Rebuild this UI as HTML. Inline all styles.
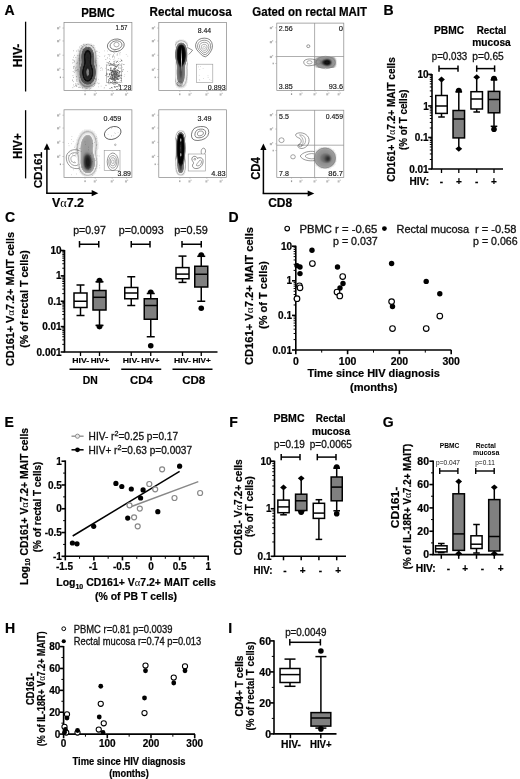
<!DOCTYPE html><html><head><meta charset="utf-8"><title>Figure</title><style>html,body{margin:0;padding:0;background:#fff}svg{display:block;will-change:transform;opacity:0.999}text{font-family:"Liberation Sans",sans-serif}</style></head><body>
<svg width="520" height="779" viewBox="0 0 520 779">
<defs><filter id="b1" x="-30%" y="-30%" width="160%" height="160%"><feGaussianBlur stdDeviation="1.6"/></filter><filter id="b2" x="-30%" y="-30%" width="160%" height="160%"><feGaussianBlur stdDeviation="0.8"/></filter><filter id="b3" x="-30%" y="-30%" width="160%" height="160%"><feGaussianBlur stdDeviation="0.4"/></filter></defs>
<rect width="520" height="779" fill="#fff"/>
<text x="4.4" y="15.4" font-size="14" font-weight="bold" stroke="#000" stroke-width="0.2" >A</text>
<text x="98" y="16.6" font-size="12" font-weight="bold" text-anchor="middle" textLength="33.6" lengthAdjust="spacingAndGlyphs" stroke="#000" stroke-width="0.2" >PBMC</text>
<text x="190.6" y="15.8" font-size="12" font-weight="bold" text-anchor="middle" textLength="82" lengthAdjust="spacingAndGlyphs" stroke="#000" stroke-width="0.2" >Rectal mucosa</text>
<text x="309.7" y="15.8" font-size="12" font-weight="bold" text-anchor="middle" textLength="114.7" lengthAdjust="spacingAndGlyphs" stroke="#000" stroke-width="0.2" >Gated on rectal MAIT</text>
<line x1="25.6" y1="21.7" x2="25.6" y2="91.5" stroke="#000" stroke-width="1.3" />
<line x1="25.6" y1="110.2" x2="25.6" y2="178.4" stroke="#000" stroke-width="1.3" />
<text font-size="12" font-weight="bold" text-anchor="middle" textLength="23.5" lengthAdjust="spacingAndGlyphs" stroke="#000" stroke-width="0.2" transform="translate(22.3,55.4) rotate(-90)" >HIV-</text>
<text font-size="12" font-weight="bold" text-anchor="middle" textLength="25.6" lengthAdjust="spacingAndGlyphs" stroke="#000" stroke-width="0.2" transform="translate(22.2,146.2) rotate(-90)" >HIV+</text>
<defs>
<filter id="dens" x="-30%" y="-30%" width="160%" height="160%" color-interpolation-filters="sRGB"><feGaussianBlur stdDeviation="2.6"/><feComponentTransfer><feFuncA type="table" tableValues="0.00 0.30 0.12 0.09 0.05 0.30 0.50 0.50 0.51 0.51 0.52 0.52 0.53 0.53 0.54 0.54 0.55 0.57 0.69 0.80 0.92 0.92 0.92 0.92 0.92 0.91 0.87 0.82 0.78 0.78 0.79 0.79 0.80 0.80 0.81 0.81 0.82 0.73 0.30 0.22 0.15"/></feComponentTransfer></filter>
<filter id="densS" x="-30%" y="-30%" width="160%" height="160%" color-interpolation-filters="sRGB"><feGaussianBlur stdDeviation="2.0"/><feComponentTransfer><feFuncA type="table" tableValues="0.00 0.30 0.12 0.09 0.05 0.30 0.50 0.50 0.51 0.51 0.52 0.52 0.53 0.53 0.54 0.54 0.55 0.57 0.69 0.80 0.92 0.92 0.92 0.92 0.92 0.91 0.87 0.82 0.78 0.78 0.79 0.79 0.80 0.80 0.81 0.81 0.82 0.73 0.30 0.22 0.15"/></feComponentTransfer></filter>
<filter id="densT" x="-30%" y="-30%" width="160%" height="160%" color-interpolation-filters="sRGB"><feGaussianBlur stdDeviation="1.5"/><feComponentTransfer><feFuncA type="table" tableValues="0.00 0.30 0.12 0.09 0.05 0.30 0.50 0.50 0.51 0.51 0.52 0.52 0.53 0.53 0.54 0.54 0.55 0.57 0.69 0.80 0.92 0.92 0.92 0.92 0.92 0.91 0.87 0.82 0.78 0.78 0.79 0.79 0.80 0.80 0.81 0.81 0.82 0.73 0.30 0.22 0.15"/></feComponentTransfer></filter>
<filter id="densG" x="-30%" y="-30%" width="160%" height="160%" color-interpolation-filters="sRGB"><feGaussianBlur stdDeviation="2.0"/><feComponentTransfer><feFuncA type="table" tableValues="0.00 0.30 0.37 0.40 0.41 0.41 0.42 0.42 0.43 0.43 0.44 0.44 0.45 0.48 0.50 0.53 0.55 0.57 0.60 0.63 0.67 0.70 0.73 0.77 0.80 0.83 0.85 0.88 0.90 0.92 0.95 0.94 0.93 0.92 0.91 0.90 0.89 0.88 0.87 0.86 0.85"/></feComponentTransfer></filter>
<filter id="densD" x="-30%" y="-30%" width="160%" height="160%" color-interpolation-filters="sRGB"><feGaussianBlur stdDeviation="2.0"/><feComponentTransfer><feFuncA type="table" tableValues="0.00 0.30 0.12 0.09 0.05 0.30 0.50 0.52 0.53 0.55 0.57 0.58 0.60 0.68 0.75 0.82 0.90 0.91 0.93 0.94 0.95 0.96 0.98 0.99 1.00 1.00 1.00 1.00 1.00 1.00 1.00 1.00 1.00 1.00 1.00 0.97 0.94 0.91 0.60 0.28 0.20"/></feComponentTransfer></filter>
<filter id="densD2" x="-30%" y="-30%" width="160%" height="160%" color-interpolation-filters="sRGB"><feGaussianBlur stdDeviation="2.4"/><feComponentTransfer><feFuncA type="table" tableValues="0.00 0.30 0.12 0.09 0.05 0.30 0.36 0.37 0.38 0.39 0.40 0.41 0.42 0.44 0.46 0.48 0.51 0.53 0.55 0.58 0.62 0.65 0.68 0.72 0.75 0.77 0.79 0.81 0.82 0.84 0.86 0.88 0.90 0.89 0.88 0.87 0.86 0.85 0.58 0.28 0.20"/></feComponentTransfer></filter>
<filter id="densD3" x="-30%" y="-30%" width="160%" height="160%" color-interpolation-filters="sRGB"><feGaussianBlur stdDeviation="1.8"/><feComponentTransfer><feFuncA type="table" tableValues="0.00 0.30 0.12 0.09 0.05 0.30 0.50 0.52 0.53 0.55 0.57 0.58 0.60 0.68 0.75 0.82 0.90 0.91 0.93 0.94 0.95 0.96 0.98 0.99 1.00 1.00 1.00 1.00 1.00 1.00 1.00 1.00 1.00 1.00 1.00 0.97 0.94 0.91 0.60 0.28 0.20"/></feComponentTransfer></filter>
</defs>
<rect x="64" y="22.6" width="67.9" height="68.0" fill="none" stroke="#858585" stroke-width="0.7" />
<rect x="57.00" y="27.14" width="2.2" height="2.2" fill="#b5b5b5"/><rect x="59.20" y="26.24" width="1.2" height="1.4" fill="#c0c0c0"/>
<line x1="62.4" y1="28.04" x2="64" y2="28.04" stroke="#999" stroke-width="0.5" />
<rect x="57.00" y="40.06" width="2.2" height="2.2" fill="#b5b5b5"/><rect x="59.20" y="39.16" width="1.2" height="1.4" fill="#c0c0c0"/>
<line x1="62.4" y1="40.96" x2="64" y2="40.96" stroke="#999" stroke-width="0.5" />
<rect x="57.00" y="54.34" width="2.2" height="2.2" fill="#b5b5b5"/><rect x="59.20" y="53.44" width="1.2" height="1.4" fill="#c0c0c0"/>
<line x1="62.4" y1="55.24" x2="64" y2="55.24" stroke="#999" stroke-width="0.5" />
<rect x="57.00" y="68.62" width="2.2" height="2.2" fill="#b5b5b5"/><rect x="59.20" y="67.72" width="1.2" height="1.4" fill="#c0c0c0"/>
<line x1="62.4" y1="69.52" x2="64" y2="69.52" stroke="#999" stroke-width="0.5" />
<rect x="59.80" y="76.54" width="1.2" height="1.6" fill="#999"/>
<line x1="62.4" y1="77.34" x2="64" y2="77.34" stroke="#999" stroke-width="0.5" />
<rect x="84.45" y="93.40" width="1.2" height="1.8" fill="#999"/>
<line x1="85.04" y1="90.6" x2="85.04" y2="91.8" stroke="#999" stroke-width="0.5" />
<rect x="93.73" y="93.40" width="2" height="2.2" fill="#bbb"/><rect x="95.73" y="92.70" width="1.2" height="1.3" fill="#c8c8c8"/>
<line x1="95.23" y1="90.6" x2="95.23" y2="91.8" stroke="#999" stroke-width="0.5" />
<rect x="110.71" y="93.40" width="2" height="2.2" fill="#bbb"/><rect x="112.71" y="92.70" width="1.2" height="1.3" fill="#c8c8c8"/>
<line x1="112.20" y1="90.6" x2="112.20" y2="91.8" stroke="#999" stroke-width="0.5" />
<rect x="124.97" y="93.40" width="2" height="2.2" fill="#bbb"/><rect x="126.97" y="92.70" width="1.2" height="1.3" fill="#c8c8c8"/>
<line x1="126.46" y1="90.6" x2="126.46" y2="91.8" stroke="#999" stroke-width="0.5" />
<g filter="url(#b1)"><ellipse cx="86.5" cy="68" rx="10.5" ry="21" fill="#777" fill-opacity="0.6"/></g>
<rect x="85.6" y="73.3" width="0.7" height="0.7" fill="#888"/>
<rect x="89.8" y="47.3" width="0.7" height="0.7" fill="#888"/>
<rect x="81.9" y="46.6" width="0.7" height="0.7" fill="#888"/>
<rect x="85.8" y="66.8" width="0.7" height="0.7" fill="#888"/>
<rect x="92.7" y="47.1" width="0.7" height="0.7" fill="#888"/>
<rect x="88.4" y="48.1" width="0.7" height="0.7" fill="#888"/>
<rect x="77.8" y="49.6" width="0.7" height="0.7" fill="#888"/>
<rect x="91.7" y="54.0" width="0.7" height="0.7" fill="#888"/>
<rect x="77.7" y="70.0" width="0.7" height="0.7" fill="#888"/>
<rect x="77.4" y="61.9" width="0.7" height="0.7" fill="#888"/>
<rect x="88.7" y="82.6" width="0.7" height="0.7" fill="#888"/>
<rect x="86.7" y="57.0" width="0.7" height="0.7" fill="#888"/>
<rect x="88.7" y="57.9" width="0.7" height="0.7" fill="#888"/>
<rect x="89.2" y="80.7" width="0.7" height="0.7" fill="#888"/>
<rect x="90.1" y="72.8" width="0.7" height="0.7" fill="#888"/>
<rect x="93.6" y="60.8" width="0.7" height="0.7" fill="#888"/>
<rect x="85.1" y="46.7" width="0.7" height="0.7" fill="#888"/>
<rect x="86.4" y="53.3" width="0.7" height="0.7" fill="#888"/>
<rect x="84.5" y="58.1" width="0.7" height="0.7" fill="#888"/>
<rect x="81.7" y="70.4" width="0.7" height="0.7" fill="#888"/>
<rect x="82.6" y="79.7" width="0.7" height="0.7" fill="#888"/>
<rect x="88.3" y="75.5" width="0.7" height="0.7" fill="#888"/>
<rect x="87.3" y="67.6" width="0.7" height="0.7" fill="#888"/>
<rect x="94.2" y="83.4" width="0.7" height="0.7" fill="#888"/>
<rect x="86.4" y="88.1" width="0.7" height="0.7" fill="#888"/>
<rect x="82.5" y="49.3" width="0.7" height="0.7" fill="#888"/>
<rect x="78.9" y="50.8" width="0.7" height="0.7" fill="#888"/>
<rect x="91.6" y="66.0" width="0.7" height="0.7" fill="#888"/>
<rect x="94.9" y="78.4" width="0.7" height="0.7" fill="#888"/>
<rect x="89.0" y="69.8" width="0.7" height="0.7" fill="#888"/>
<rect x="90.4" y="75.3" width="0.7" height="0.7" fill="#888"/>
<rect x="83.6" y="70.7" width="0.7" height="0.7" fill="#888"/>
<rect x="81.7" y="81.8" width="0.7" height="0.7" fill="#888"/>
<rect x="84.1" y="86.5" width="0.7" height="0.7" fill="#888"/>
<rect x="79.0" y="46.7" width="0.7" height="0.7" fill="#888"/>
<rect x="88.3" y="75.6" width="0.7" height="0.7" fill="#888"/>
<rect x="76.6" y="81.0" width="0.7" height="0.7" fill="#888"/>
<rect x="73.1" y="56.8" width="0.7" height="0.7" fill="#888"/>
<rect x="80.8" y="45.0" width="0.7" height="0.7" fill="#888"/>
<rect x="92.4" y="64.8" width="0.7" height="0.7" fill="#888"/>
<rect x="88.4" y="46.7" width="0.7" height="0.7" fill="#888"/>
<rect x="89.4" y="78.6" width="0.7" height="0.7" fill="#888"/>
<rect x="89.9" y="61.6" width="0.7" height="0.7" fill="#888"/>
<rect x="90.0" y="83.2" width="0.7" height="0.7" fill="#888"/>
<rect x="92.3" y="68.7" width="0.7" height="0.7" fill="#888"/>
<rect x="89.9" y="83.8" width="0.7" height="0.7" fill="#888"/>
<rect x="91.6" y="56.5" width="0.7" height="0.7" fill="#888"/>
<rect x="77.0" y="62.7" width="0.7" height="0.7" fill="#888"/>
<rect x="79.8" y="87.1" width="0.7" height="0.7" fill="#888"/>
<rect x="95.9" y="50.8" width="0.7" height="0.7" fill="#888"/>
<rect x="88.8" y="54.5" width="0.7" height="0.7" fill="#888"/>
<rect x="90.6" y="65.8" width="0.7" height="0.7" fill="#888"/>
<rect x="83.4" y="44.2" width="0.7" height="0.7" fill="#888"/>
<rect x="84.7" y="62.9" width="0.7" height="0.7" fill="#888"/>
<rect x="82.2" y="86.9" width="0.7" height="0.7" fill="#888"/>
<rect x="92.2" y="75.1" width="0.7" height="0.7" fill="#888"/>
<rect x="79.4" y="74.4" width="0.7" height="0.7" fill="#888"/>
<rect x="86.3" y="46.4" width="0.7" height="0.7" fill="#888"/>
<rect x="94.7" y="83.4" width="0.7" height="0.7" fill="#888"/>
<rect x="81.4" y="79.9" width="0.7" height="0.7" fill="#888"/>
<rect x="82.7" y="48.7" width="0.7" height="0.7" fill="#888"/>
<rect x="90.5" y="72.5" width="0.7" height="0.7" fill="#888"/>
<rect x="88.9" y="53.4" width="0.7" height="0.7" fill="#888"/>
<rect x="87.8" y="51.3" width="0.7" height="0.7" fill="#888"/>
<rect x="86.0" y="44.0" width="0.7" height="0.7" fill="#888"/>
<rect x="88.5" y="50.8" width="0.7" height="0.7" fill="#888"/>
<rect x="91.2" y="45.1" width="0.7" height="0.7" fill="#888"/>
<rect x="90.1" y="83.3" width="0.7" height="0.7" fill="#888"/>
<rect x="84.6" y="55.4" width="0.7" height="0.7" fill="#888"/>
<rect x="85.0" y="59.6" width="0.7" height="0.7" fill="#888"/>
<rect x="85.1" y="82.2" width="0.7" height="0.7" fill="#888"/>
<rect x="89.1" y="88.7" width="0.7" height="0.7" fill="#888"/>
<rect x="80.8" y="47.9" width="0.7" height="0.7" fill="#888"/>
<rect x="88.3" y="48.6" width="0.7" height="0.7" fill="#888"/>
<rect x="84.6" y="81.3" width="0.7" height="0.7" fill="#888"/>
<rect x="90.6" y="51.3" width="0.7" height="0.7" fill="#888"/>
<rect x="100.4" y="67.8" width="0.7" height="0.7" fill="#888"/>
<rect x="89.0" y="50.6" width="0.7" height="0.7" fill="#888"/>
<rect x="85.8" y="67.8" width="0.7" height="0.7" fill="#888"/>
<rect x="86.7" y="88.0" width="0.7" height="0.7" fill="#888"/>
<rect x="92.5" y="55.8" width="0.7" height="0.7" fill="#888"/>
<rect x="80.6" y="60.5" width="0.7" height="0.7" fill="#888"/>
<rect x="91.7" y="68.0" width="0.7" height="0.7" fill="#888"/>
<rect x="95.2" y="79.1" width="0.7" height="0.7" fill="#888"/>
<rect x="85.1" y="80.5" width="0.7" height="0.7" fill="#888"/>
<rect x="90.4" y="88.3" width="0.7" height="0.7" fill="#888"/>
<rect x="93.0" y="80.8" width="0.7" height="0.7" fill="#888"/>
<rect x="79.0" y="77.3" width="0.7" height="0.7" fill="#888"/>
<rect x="88.0" y="60.0" width="0.7" height="0.7" fill="#888"/>
<rect x="93.6" y="45.3" width="0.7" height="0.7" fill="#888"/>
<rect x="91.4" y="55.7" width="0.7" height="0.7" fill="#888"/>
<rect x="87.8" y="75.2" width="0.7" height="0.7" fill="#888"/>
<rect x="92.8" y="86.2" width="0.7" height="0.7" fill="#888"/>
<rect x="85.4" y="88.5" width="0.7" height="0.7" fill="#888"/>
<rect x="92.0" y="53.9" width="0.7" height="0.7" fill="#888"/>
<rect x="85.5" y="54.2" width="0.7" height="0.7" fill="#888"/>
<rect x="88.2" y="72.1" width="0.7" height="0.7" fill="#888"/>
<rect x="90.5" y="84.5" width="0.7" height="0.7" fill="#888"/>
<rect x="90.4" y="73.4" width="0.7" height="0.7" fill="#888"/>
<rect x="81.7" y="80.0" width="0.7" height="0.7" fill="#888"/>
<rect x="94.0" y="84.9" width="0.7" height="0.7" fill="#888"/>
<rect x="91.1" y="79.2" width="0.7" height="0.7" fill="#888"/>
<rect x="87.0" y="52.0" width="0.7" height="0.7" fill="#888"/>
<rect x="80.7" y="79.5" width="0.7" height="0.7" fill="#888"/>
<rect x="82.1" y="87.7" width="0.7" height="0.7" fill="#888"/>
<rect x="95.6" y="61.8" width="0.7" height="0.7" fill="#888"/>
<rect x="76.2" y="76.6" width="0.7" height="0.7" fill="#888"/>
<rect x="94.7" y="51.7" width="0.7" height="0.7" fill="#888"/>
<rect x="89.2" y="84.7" width="0.7" height="0.7" fill="#888"/>
<rect x="89.3" y="80.3" width="0.7" height="0.7" fill="#888"/>
<rect x="73.2" y="81.4" width="0.7" height="0.7" fill="#888"/>
<rect x="79.8" y="75.0" width="0.7" height="0.7" fill="#888"/>
<rect x="74.8" y="70.8" width="0.7" height="0.7" fill="#888"/>
<rect x="73.0" y="50.5" width="0.7" height="0.7" fill="#888"/>
<rect x="79.8" y="74.7" width="0.7" height="0.7" fill="#888"/>
<rect x="76.2" y="85.5" width="0.7" height="0.7" fill="#888"/>
<rect x="75.5" y="83.1" width="0.7" height="0.7" fill="#888"/>
<rect x="78.6" y="58.0" width="0.7" height="0.7" fill="#888"/>
<rect x="74.0" y="61.1" width="0.7" height="0.7" fill="#888"/>
<rect x="73.9" y="72.3" width="0.7" height="0.7" fill="#888"/>
<rect x="74.1" y="65.9" width="0.7" height="0.7" fill="#888"/>
<rect x="73.0" y="84.6" width="0.7" height="0.7" fill="#888"/>
<rect x="74.8" y="67.4" width="0.7" height="0.7" fill="#888"/>
<rect x="76.7" y="84.4" width="0.7" height="0.7" fill="#888"/>
<rect x="75.4" y="84.9" width="0.7" height="0.7" fill="#888"/>
<rect x="76.0" y="70.2" width="0.7" height="0.7" fill="#888"/>
<rect x="76.2" y="50.7" width="0.7" height="0.7" fill="#888"/>
<rect x="75.5" y="57.0" width="0.7" height="0.7" fill="#888"/>
<rect x="72.0" y="80.4" width="0.7" height="0.7" fill="#888"/>
<rect x="73.4" y="68.0" width="0.7" height="0.7" fill="#888"/>
<rect x="77.8" y="71.1" width="0.7" height="0.7" fill="#888"/>
<rect x="74.6" y="69.7" width="0.7" height="0.7" fill="#888"/>
<rect x="76.4" y="79.8" width="0.7" height="0.7" fill="#888"/>
<rect x="72.8" y="71.3" width="0.7" height="0.7" fill="#888"/>
<rect x="74.0" y="60.5" width="0.7" height="0.7" fill="#888"/>
<rect x="78.2" y="69.3" width="0.7" height="0.7" fill="#888"/>
<rect x="76.5" y="78.9" width="0.7" height="0.7" fill="#888"/>
<rect x="79.3" y="66.8" width="0.7" height="0.7" fill="#888"/>
<rect x="76.9" y="69.2" width="0.7" height="0.7" fill="#888"/>
<rect x="76.1" y="76.3" width="0.7" height="0.7" fill="#888"/>
<rect x="75.6" y="70.3" width="0.7" height="0.7" fill="#888"/>
<rect x="75.8" y="85.8" width="0.7" height="0.7" fill="#888"/>
<rect x="77.6" y="83.3" width="0.7" height="0.7" fill="#888"/>
<rect x="79.5" y="59.9" width="0.7" height="0.7" fill="#888"/>
<rect x="76.5" y="85.8" width="0.7" height="0.7" fill="#888"/>
<rect x="78.7" y="55.2" width="0.7" height="0.7" fill="#888"/>
<rect x="73.0" y="66.8" width="0.7" height="0.7" fill="#888"/>
<rect x="72.6" y="59.1" width="0.7" height="0.7" fill="#888"/>
<rect x="72.6" y="75.4" width="0.7" height="0.7" fill="#888"/>
<rect x="78.3" y="84.1" width="0.7" height="0.7" fill="#888"/>
<rect x="73.2" y="77.2" width="0.7" height="0.7" fill="#888"/>
<rect x="77.3" y="55.4" width="0.7" height="0.7" fill="#888"/>
<rect x="79.1" y="86.8" width="0.7" height="0.7" fill="#888"/>
<rect x="73.8" y="86.2" width="0.7" height="0.7" fill="#888"/>
<rect x="75.2" y="68.5" width="0.7" height="0.7" fill="#888"/>
<rect x="79.9" y="81.6" width="0.7" height="0.7" fill="#888"/>
<rect x="73.3" y="66.4" width="0.7" height="0.7" fill="#888"/>
<rect x="76.1" y="62.9" width="0.7" height="0.7" fill="#888"/>
<rect x="73.6" y="62.1" width="0.7" height="0.7" fill="#888"/>
<rect x="77.8" y="50.7" width="0.7" height="0.7" fill="#888"/>
<rect x="76.4" y="66.7" width="0.7" height="0.7" fill="#888"/>
<rect x="72.1" y="62.6" width="0.7" height="0.7" fill="#888"/>
<rect x="77.0" y="69.5" width="0.7" height="0.7" fill="#888"/>
<rect x="72.5" y="87.4" width="0.7" height="0.7" fill="#888"/>
<rect x="78.3" y="86.9" width="0.7" height="0.7" fill="#888"/>
<rect x="72.8" y="60.1" width="0.7" height="0.7" fill="#888"/>
<rect x="72.3" y="79.6" width="0.7" height="0.7" fill="#888"/>
<rect x="74.2" y="54.9" width="0.7" height="0.7" fill="#888"/>
<rect x="75.4" y="84.6" width="0.7" height="0.7" fill="#888"/>
<rect x="78.6" y="59.8" width="0.7" height="0.7" fill="#888"/>
<rect x="100.8" y="85.8" width="0.6" height="0.6" fill="#999"/>
<rect x="114.3" y="77.3" width="0.6" height="0.6" fill="#999"/>
<rect x="98.9" y="52.2" width="0.6" height="0.6" fill="#999"/>
<rect x="118.0" y="66.6" width="0.6" height="0.6" fill="#999"/>
<rect x="98.3" y="86.6" width="0.6" height="0.6" fill="#999"/>
<rect x="116.3" y="81.3" width="0.6" height="0.6" fill="#999"/>
<rect x="98.7" y="83.4" width="0.6" height="0.6" fill="#999"/>
<rect x="98.1" y="83.6" width="0.6" height="0.6" fill="#999"/>
<rect x="110.5" y="63.2" width="0.6" height="0.6" fill="#999"/>
<rect x="113.7" y="86.1" width="0.6" height="0.6" fill="#999"/>
<rect x="104.6" y="55.0" width="0.6" height="0.6" fill="#999"/>
<rect x="112.9" y="59.3" width="0.6" height="0.6" fill="#999"/>
<rect x="99.5" y="56.3" width="0.6" height="0.6" fill="#999"/>
<rect x="97.6" y="57.9" width="0.6" height="0.6" fill="#999"/>
<rect x="106.0" y="61.9" width="0.6" height="0.6" fill="#999"/>
<rect x="120.3" y="61.3" width="0.6" height="0.6" fill="#999"/>
<rect x="112.0" y="56.9" width="0.6" height="0.6" fill="#999"/>
<rect x="107.1" y="50.7" width="0.6" height="0.6" fill="#999"/>
<rect x="104.0" y="50.6" width="0.6" height="0.6" fill="#999"/>
<rect x="119.5" y="71.5" width="0.6" height="0.6" fill="#999"/>
<rect x="102.1" y="68.5" width="0.6" height="0.6" fill="#999"/>
<rect x="125.9" y="54.1" width="0.6" height="0.6" fill="#999"/>
<rect x="122.2" y="66.9" width="0.6" height="0.6" fill="#999"/>
<rect x="111.8" y="82.5" width="0.6" height="0.6" fill="#999"/>
<rect x="108.6" y="69.8" width="0.6" height="0.6" fill="#999"/>
<rect x="118.0" y="88.3" width="0.6" height="0.6" fill="#999"/>
<rect x="107.0" y="82.5" width="0.6" height="0.6" fill="#999"/>
<rect x="118.6" y="74.8" width="0.6" height="0.6" fill="#999"/>
<rect x="109.0" y="63.6" width="0.6" height="0.6" fill="#999"/>
<rect x="97.7" y="55.1" width="0.6" height="0.6" fill="#999"/>
<rect x="98.3" y="78.9" width="0.6" height="0.6" fill="#999"/>
<rect x="104.2" y="56.4" width="0.6" height="0.6" fill="#999"/>
<rect x="98.7" y="82.8" width="0.6" height="0.6" fill="#999"/>
<rect x="123.9" y="76.2" width="0.6" height="0.6" fill="#999"/>
<rect x="105.0" y="59.4" width="0.6" height="0.6" fill="#999"/>
<rect x="105.4" y="67.9" width="0.6" height="0.6" fill="#999"/>
<rect x="101.0" y="67.4" width="0.6" height="0.6" fill="#999"/>
<rect x="104.4" y="87.5" width="0.6" height="0.6" fill="#999"/>
<rect x="127.1" y="71.3" width="0.6" height="0.6" fill="#999"/>
<rect x="103.8" y="87.7" width="0.6" height="0.6" fill="#999"/>
<rect x="105.9" y="63.9" width="0.6" height="0.6" fill="#999"/>
<rect x="96.0" y="64.9" width="0.6" height="0.6" fill="#999"/>
<rect x="111.2" y="69.6" width="0.6" height="0.6" fill="#999"/>
<rect x="102.4" y="69.7" width="0.6" height="0.6" fill="#999"/>
<rect x="96.2" y="60.3" width="0.6" height="0.6" fill="#999"/>
<rect x="98.9" y="65.6" width="0.6" height="0.6" fill="#999"/>
<rect x="97.3" y="50.9" width="0.6" height="0.6" fill="#999"/>
<rect x="105.7" y="59.1" width="0.6" height="0.6" fill="#999"/>
<rect x="114.7" y="70.6" width="0.6" height="0.6" fill="#999"/>
<rect x="120.0" y="75.6" width="0.6" height="0.6" fill="#999"/>
<rect x="118.9" y="84.3" width="0.6" height="0.6" fill="#999"/>
<rect x="108.5" y="62.7" width="0.6" height="0.6" fill="#999"/>
<rect x="127.5" y="55.8" width="0.6" height="0.6" fill="#999"/>
<rect x="119.2" y="75.1" width="0.6" height="0.6" fill="#999"/>
<rect x="97.4" y="82.6" width="0.6" height="0.6" fill="#999"/>
<rect x="124.5" y="74.5" width="0.6" height="0.6" fill="#999"/>
<rect x="119.5" y="81.7" width="0.6" height="0.6" fill="#999"/>
<rect x="100.5" y="70.4" width="0.6" height="0.6" fill="#999"/>
<rect x="112.1" y="82.6" width="0.6" height="0.6" fill="#999"/>
<rect x="121.7" y="82.2" width="0.6" height="0.6" fill="#999"/>
<rect x="115.2" y="64.3" width="0.6" height="0.6" fill="#999"/>
<rect x="116.6" y="61.1" width="0.6" height="0.6" fill="#999"/>
<rect x="110.2" y="50.5" width="0.6" height="0.6" fill="#999"/>
<rect x="108.9" y="55.8" width="0.6" height="0.6" fill="#999"/>
<rect x="108.5" y="63.4" width="0.6" height="0.6" fill="#999"/>
<rect x="114.8" y="60.0" width="0.6" height="0.6" fill="#999"/>
<rect x="115.8" y="60.9" width="0.6" height="0.6" fill="#999"/>
<rect x="113.9" y="50.1" width="0.6" height="0.6" fill="#999"/>
<rect x="118.2" y="62.0" width="0.6" height="0.6" fill="#999"/>
<rect x="114.0" y="58.6" width="0.6" height="0.6" fill="#999"/>
<rect x="116.2" y="51.1" width="0.6" height="0.6" fill="#999"/>
<rect x="117.3" y="54.0" width="0.6" height="0.6" fill="#999"/>
<rect x="108.0" y="54.2" width="0.6" height="0.6" fill="#999"/>
<rect x="117.2" y="53.3" width="0.6" height="0.6" fill="#999"/>
<rect x="117.4" y="65.6" width="0.6" height="0.6" fill="#999"/>
<rect x="113.9" y="56.1" width="0.6" height="0.6" fill="#999"/>
<rect x="113.7" y="60.9" width="0.6" height="0.6" fill="#999"/>
<rect x="117.7" y="59.9" width="0.6" height="0.6" fill="#999"/>
<rect x="116.0" y="51.2" width="0.6" height="0.6" fill="#999"/>
<rect x="109.1" y="54.1" width="0.6" height="0.6" fill="#999"/>
<rect x="117.4" y="54.9" width="0.6" height="0.6" fill="#999"/>
<rect x="114.9" y="50.2" width="0.6" height="0.6" fill="#999"/>
<rect x="107.8" y="54.3" width="0.6" height="0.6" fill="#999"/>
<rect x="116.4" y="61.1" width="0.6" height="0.6" fill="#999"/>
<rect x="116.5" y="54.7" width="0.6" height="0.6" fill="#999"/>
<rect x="114.2" y="57.4" width="0.6" height="0.6" fill="#999"/>
<rect x="113.5" y="51.9" width="0.6" height="0.6" fill="#999"/>
<rect x="119.5" y="53.2" width="0.6" height="0.6" fill="#999"/>
<rect x="120.7" y="65.0" width="0.6" height="0.6" fill="#999"/>
<rect x="107.2" y="57.3" width="0.6" height="0.6" fill="#999"/>
<rect x="118.5" y="65.5" width="0.6" height="0.6" fill="#999"/>
<rect x="113.3" y="54.3" width="0.6" height="0.6" fill="#999"/>
<rect x="109.9" y="65.1" width="0.6" height="0.6" fill="#999"/>
<rect x="109.9" y="59.3" width="0.6" height="0.6" fill="#999"/>
<rect x="109.0" y="58.4" width="0.6" height="0.6" fill="#999"/>
<rect x="120.3" y="52.1" width="0.6" height="0.6" fill="#999"/>
<rect x="118.5" y="58.1" width="0.6" height="0.6" fill="#999"/>
<rect x="119.4" y="61.3" width="0.6" height="0.6" fill="#999"/>
<rect x="110.2" y="64.4" width="0.6" height="0.6" fill="#999"/>
<rect x="113.8" y="50.4" width="0.6" height="0.6" fill="#999"/>
<rect x="107.1" y="57.9" width="0.6" height="0.6" fill="#999"/>
<rect x="113.3" y="54.8" width="0.6" height="0.6" fill="#999"/>
<rect x="109.0" y="55.5" width="0.6" height="0.6" fill="#999"/>
<rect x="111.4" y="63.4" width="0.6" height="0.6" fill="#999"/>
<rect x="107.0" y="62.0" width="0.6" height="0.6" fill="#999"/>
<rect x="118.7" y="51.9" width="0.6" height="0.6" fill="#999"/>
<rect x="120.0" y="61.4" width="0.6" height="0.6" fill="#999"/>
<rect x="119.6" y="54.6" width="0.6" height="0.6" fill="#999"/>
<rect x="112.2" y="56.3" width="0.6" height="0.6" fill="#999"/>
<rect x="121.0" y="59.4" width="0.6" height="0.6" fill="#999"/>
<rect x="112.0" y="56.8" width="0.6" height="0.6" fill="#999"/>
<rect x="110.9" y="50.8" width="0.6" height="0.6" fill="#999"/>
<rect x="108.4" y="63.4" width="0.6" height="0.6" fill="#999"/>
<rect x="111.0" y="65.0" width="0.6" height="0.6" fill="#999"/>
<rect x="110.5" y="54.3" width="0.6" height="0.6" fill="#999"/>
<rect x="114.2" y="53.0" width="0.6" height="0.6" fill="#999"/>
<rect x="112.2" y="65.3" width="0.6" height="0.6" fill="#999"/>
<rect x="119.4" y="63.0" width="0.6" height="0.6" fill="#999"/>
<rect x="115.8" y="64.6" width="0.6" height="0.6" fill="#999"/>
<rect x="120.2" y="58.8" width="0.6" height="0.6" fill="#999"/>
<g filter="url(#dens)">
<ellipse cx="87.7" cy="72.5" rx="5.4" ry="10" fill="#000" fill-opacity="1" transform="rotate(0 87.7 72.5)"/>
<ellipse cx="87.7" cy="57" rx="3.6" ry="8.5" fill="#000" fill-opacity="1" transform="rotate(0 87.7 57)"/>
</g>
<ellipse cx="115.8" cy="45.4" rx="8.5" ry="6.3" fill="none" stroke="#333" stroke-width="0.6" transform="rotate(-12 115.8 45.4)"/>
<ellipse cx="116" cy="45.2" rx="6" ry="4.3" fill="none" stroke="#444" stroke-width="0.6" transform="rotate(-12 116 45.2)"/>
<ellipse cx="116.5" cy="44.6" rx="2.6" ry="2.3" fill="none" stroke="#777" stroke-width="0.6" transform="rotate(0 116.5 44.6)"/>
<rect x="106.5" y="65" width="15" height="17.6" fill="none" stroke="#959595" stroke-width="0.6" />
<rect x="113.8" y="72.8" width="0.8" height="0.8" fill="#555"/>
<rect x="113.6" y="68.5" width="0.8" height="0.8" fill="#555"/>
<rect x="114.1" y="66.6" width="0.8" height="0.8" fill="#555"/>
<rect x="113.8" y="76.2" width="0.8" height="0.8" fill="#555"/>
<rect x="115.6" y="73.2" width="0.8" height="0.8" fill="#555"/>
<rect x="110.9" y="75.4" width="0.8" height="0.8" fill="#555"/>
<rect x="112.4" y="83.1" width="0.8" height="0.8" fill="#555"/>
<rect x="116.6" y="73.9" width="0.8" height="0.8" fill="#555"/>
<rect x="112.4" y="70.6" width="0.8" height="0.8" fill="#555"/>
<rect x="110.8" y="72.6" width="0.8" height="0.8" fill="#555"/>
<rect x="115.0" y="77.3" width="0.8" height="0.8" fill="#555"/>
<rect x="115.9" y="86.0" width="0.8" height="0.8" fill="#555"/>
<rect x="111.6" y="74.6" width="0.8" height="0.8" fill="#555"/>
<rect x="123.5" y="64.2" width="0.8" height="0.8" fill="#555"/>
<rect x="112.2" y="75.4" width="0.8" height="0.8" fill="#555"/>
<rect x="114.5" y="76.7" width="0.8" height="0.8" fill="#555"/>
<rect x="113.2" y="76.5" width="0.8" height="0.8" fill="#555"/>
<rect x="114.2" y="78.7" width="0.8" height="0.8" fill="#555"/>
<rect x="107.6" y="69.6" width="0.8" height="0.8" fill="#555"/>
<rect x="114.0" y="68.8" width="0.8" height="0.8" fill="#555"/>
<rect x="110.4" y="78.0" width="0.8" height="0.8" fill="#555"/>
<rect x="111.8" y="78.0" width="0.8" height="0.8" fill="#555"/>
<rect x="116.5" y="76.2" width="0.8" height="0.8" fill="#555"/>
<rect x="115.7" y="73.9" width="0.8" height="0.8" fill="#555"/>
<rect x="109.2" y="74.3" width="0.8" height="0.8" fill="#555"/>
<rect x="115.5" y="71.6" width="0.8" height="0.8" fill="#555"/>
<rect x="113.7" y="78.6" width="0.8" height="0.8" fill="#555"/>
<rect x="111.0" y="78.0" width="0.8" height="0.8" fill="#555"/>
<rect x="120.3" y="71.4" width="0.8" height="0.8" fill="#555"/>
<rect x="114.5" y="73.7" width="0.8" height="0.8" fill="#555"/>
<rect x="119.2" y="76.2" width="0.8" height="0.8" fill="#555"/>
<rect x="117.1" y="70.7" width="0.8" height="0.8" fill="#555"/>
<rect x="113.9" y="74.4" width="0.8" height="0.8" fill="#555"/>
<rect x="108.0" y="82.4" width="0.8" height="0.8" fill="#555"/>
<rect x="117.1" y="64.9" width="0.8" height="0.8" fill="#555"/>
<rect x="116.5" y="73.8" width="0.8" height="0.8" fill="#555"/>
<rect x="115.5" y="76.5" width="0.8" height="0.8" fill="#555"/>
<rect x="108.9" y="73.3" width="0.8" height="0.8" fill="#555"/>
<rect x="119.1" y="71.3" width="0.8" height="0.8" fill="#555"/>
<rect x="110.5" y="67.0" width="0.8" height="0.8" fill="#555"/>
<rect x="109.8" y="76.3" width="0.8" height="0.8" fill="#555"/>
<rect x="119.8" y="76.9" width="0.8" height="0.8" fill="#555"/>
<rect x="114.8" y="86.8" width="0.8" height="0.8" fill="#555"/>
<rect x="112.2" y="70.8" width="0.8" height="0.8" fill="#555"/>
<rect x="115.8" y="77.5" width="0.8" height="0.8" fill="#555"/>
<rect x="110.5" y="68.1" width="0.8" height="0.8" fill="#555"/>
<rect x="115.0" y="75.9" width="0.8" height="0.8" fill="#555"/>
<rect x="109.6" y="73.4" width="0.8" height="0.8" fill="#555"/>
<rect x="112.2" y="77.0" width="0.8" height="0.8" fill="#555"/>
<rect x="113.6" y="74.0" width="0.8" height="0.8" fill="#555"/>
<rect x="112.8" y="80.3" width="0.8" height="0.8" fill="#555"/>
<rect x="118.7" y="72.5" width="0.8" height="0.8" fill="#555"/>
<rect x="116.9" y="70.3" width="0.8" height="0.8" fill="#555"/>
<rect x="114.2" y="78.6" width="0.8" height="0.8" fill="#555"/>
<rect x="119.1" y="72.4" width="0.8" height="0.8" fill="#555"/>
<rect x="113.7" y="75.6" width="0.8" height="0.8" fill="#555"/>
<rect x="108.9" y="74.6" width="0.8" height="0.8" fill="#555"/>
<rect x="111.7" y="76.5" width="0.8" height="0.8" fill="#555"/>
<rect x="110.2" y="63.6" width="0.8" height="0.8" fill="#555"/>
<rect x="114.1" y="75.9" width="0.8" height="0.8" fill="#555"/>
<rect x="112.1" y="79.4" width="0.8" height="0.8" fill="#555"/>
<rect x="113.1" y="71.2" width="0.8" height="0.8" fill="#555"/>
<rect x="115.6" y="65.9" width="0.8" height="0.8" fill="#555"/>
<rect x="111.7" y="74.4" width="0.8" height="0.8" fill="#555"/>
<rect x="116.9" y="73.6" width="0.8" height="0.8" fill="#555"/>
<rect x="115.0" y="70.9" width="0.8" height="0.8" fill="#555"/>
<rect x="115.0" y="83.6" width="0.8" height="0.8" fill="#555"/>
<rect x="111.7" y="87.5" width="0.8" height="0.8" fill="#555"/>
<rect x="111.8" y="74.6" width="0.8" height="0.8" fill="#555"/>
<rect x="114.6" y="80.1" width="0.8" height="0.8" fill="#555"/>
<rect x="109.8" y="62.9" width="0.8" height="0.8" fill="#555"/>
<rect x="116.1" y="78.9" width="0.8" height="0.8" fill="#555"/>
<rect x="116.1" y="89.0" width="0.8" height="0.8" fill="#555"/>
<rect x="114.7" y="75.9" width="0.8" height="0.8" fill="#555"/>
<rect x="117.2" y="76.5" width="0.8" height="0.8" fill="#555"/>
<rect x="119.7" y="67.7" width="0.8" height="0.8" fill="#555"/>
<rect x="112.7" y="55.6" width="0.8" height="0.8" fill="#555"/>
<rect x="116.8" y="72.5" width="0.8" height="0.8" fill="#555"/>
<rect x="117.1" y="86.3" width="0.8" height="0.8" fill="#555"/>
<rect x="114.0" y="73.1" width="0.8" height="0.8" fill="#555"/>
<rect x="112.3" y="69.9" width="0.8" height="0.8" fill="#555"/>
<rect x="111.9" y="78.0" width="0.8" height="0.8" fill="#555"/>
<rect x="114.1" y="74.9" width="0.8" height="0.8" fill="#555"/>
<rect x="113.4" y="79.5" width="0.8" height="0.8" fill="#555"/>
<rect x="115.7" y="73.7" width="0.8" height="0.8" fill="#555"/>
<rect x="116.3" y="73.7" width="0.8" height="0.8" fill="#555"/>
<rect x="110.1" y="82.5" width="0.8" height="0.8" fill="#555"/>
<rect x="115.6" y="69.2" width="0.8" height="0.8" fill="#555"/>
<rect x="117.7" y="76.4" width="0.8" height="0.8" fill="#555"/>
<rect x="108.7" y="83.4" width="0.8" height="0.8" fill="#555"/>
<rect x="115.1" y="79.4" width="0.8" height="0.8" fill="#555"/>
<rect x="114.7" y="73.7" width="0.8" height="0.8" fill="#555"/>
<rect x="108.7" y="79.8" width="0.8" height="0.8" fill="#555"/>
<rect x="114.1" y="72.9" width="0.8" height="0.8" fill="#555"/>
<rect x="115.2" y="74.9" width="0.8" height="0.8" fill="#555"/>
<rect x="116.3" y="72.5" width="0.8" height="0.8" fill="#555"/>
<rect x="113.9" y="62.7" width="0.8" height="0.8" fill="#555"/>
<rect x="112.6" y="78.2" width="0.8" height="0.8" fill="#555"/>
<rect x="118.5" y="72.5" width="0.8" height="0.8" fill="#555"/>
<rect x="113.6" y="83.2" width="0.8" height="0.8" fill="#555"/>
<rect x="112.9" y="78.5" width="0.8" height="0.8" fill="#555"/>
<rect x="119.7" y="74.7" width="0.8" height="0.8" fill="#555"/>
<rect x="118.2" y="70.6" width="0.8" height="0.8" fill="#555"/>
<rect x="114.7" y="74.1" width="0.8" height="0.8" fill="#555"/>
<rect x="114.4" y="80.7" width="0.8" height="0.8" fill="#555"/>
<rect x="122.1" y="70.8" width="0.8" height="0.8" fill="#555"/>
<rect x="112.0" y="77.2" width="0.8" height="0.8" fill="#555"/>
<rect x="110.4" y="77.2" width="0.8" height="0.8" fill="#555"/>
<rect x="115.9" y="73.0" width="0.8" height="0.8" fill="#555"/>
<rect x="115.8" y="66.0" width="0.8" height="0.8" fill="#555"/>
<rect x="116.6" y="66.0" width="0.8" height="0.8" fill="#555"/>
<rect x="111.6" y="71.4" width="0.8" height="0.8" fill="#555"/>
<rect x="112.6" y="79.2" width="0.8" height="0.8" fill="#555"/>
<rect x="114.3" y="72.3" width="0.8" height="0.8" fill="#555"/>
<rect x="115.8" y="83.2" width="0.8" height="0.8" fill="#555"/>
<rect x="114.0" y="76.5" width="0.8" height="0.8" fill="#555"/>
<rect x="118.2" y="76.0" width="0.8" height="0.8" fill="#555"/>
<rect x="109.6" y="88.2" width="0.8" height="0.8" fill="#555"/>
<rect x="121.5" y="63.6" width="0.8" height="0.8" fill="#555"/>
<rect x="113.9" y="76.8" width="0.8" height="0.8" fill="#555"/>
<rect x="117.3" y="78.2" width="0.8" height="0.8" fill="#555"/>
<rect x="113.1" y="68.7" width="0.8" height="0.8" fill="#555"/>
<rect x="114.4" y="80.2" width="0.8" height="0.8" fill="#555"/>
<rect x="110.3" y="68.9" width="0.8" height="0.8" fill="#555"/>
<rect x="113.9" y="63.8" width="0.8" height="0.8" fill="#555"/>
<rect x="113.1" y="72.1" width="0.8" height="0.8" fill="#555"/>
<rect x="115.5" y="70.6" width="0.8" height="0.8" fill="#555"/>
<rect x="111.0" y="72.3" width="0.8" height="0.8" fill="#555"/>
<rect x="113.8" y="70.8" width="0.8" height="0.8" fill="#555"/>
<rect x="114.0" y="78.6" width="0.8" height="0.8" fill="#555"/>
<rect x="118.0" y="83.9" width="0.8" height="0.8" fill="#555"/>
<rect x="111.3" y="72.2" width="0.8" height="0.8" fill="#555"/>
<rect x="105.6" y="84.9" width="0.8" height="0.8" fill="#555"/>
<rect x="111.5" y="74.3" width="0.8" height="0.8" fill="#555"/>
<rect x="115.8" y="67.0" width="0.8" height="0.8" fill="#555"/>
<rect x="115.6" y="74.4" width="0.8" height="0.8" fill="#555"/>
<rect x="107.8" y="76.1" width="0.8" height="0.8" fill="#555"/>
<rect x="118.1" y="64.2" width="0.8" height="0.8" fill="#555"/>
<rect x="116.7" y="75.7" width="0.8" height="0.8" fill="#555"/>
<rect x="115.6" y="76.9" width="0.8" height="0.8" fill="#555"/>
<rect x="118.4" y="73.3" width="0.8" height="0.8" fill="#555"/>
<rect x="117.0" y="72.2" width="0.8" height="0.8" fill="#555"/>
<rect x="116.5" y="70.0" width="0.8" height="0.8" fill="#555"/>
<rect x="113.6" y="84.0" width="0.8" height="0.8" fill="#555"/>
<rect x="115.5" y="73.6" width="0.8" height="0.8" fill="#555"/>
<rect x="110.1" y="70.2" width="0.8" height="0.8" fill="#555"/>
<rect x="114.7" y="79.7" width="0.8" height="0.8" fill="#555"/>
<rect x="115.4" y="77.4" width="0.8" height="0.8" fill="#555"/>
<rect x="113.9" y="81.9" width="0.8" height="0.8" fill="#555"/>
<rect x="112.7" y="71.5" width="0.8" height="0.8" fill="#555"/>
<rect x="117.0" y="74.8" width="0.8" height="0.8" fill="#555"/>
<rect x="113.1" y="71.3" width="0.8" height="0.8" fill="#555"/>
<rect x="113.1" y="77.9" width="0.8" height="0.8" fill="#555"/>
<rect x="115.2" y="67.8" width="0.8" height="0.8" fill="#555"/>
<rect x="115.4" y="75.5" width="0.8" height="0.8" fill="#555"/>
<rect x="110.6" y="78.8" width="0.8" height="0.8" fill="#555"/>
<rect x="113.0" y="72.7" width="0.8" height="0.8" fill="#555"/>
<rect x="116.7" y="81.8" width="0.8" height="0.8" fill="#555"/>
<rect x="111.7" y="76.9" width="0.8" height="0.8" fill="#555"/>
<rect x="111.0" y="87.2" width="0.8" height="0.8" fill="#555"/>
<rect x="112.3" y="81.1" width="0.8" height="0.8" fill="#555"/>
<rect x="111.8" y="79.0" width="0.8" height="0.8" fill="#555"/>
<rect x="121.5" y="60.5" width="0.8" height="0.8" fill="#555"/>
<rect x="112.5" y="77.3" width="0.8" height="0.8" fill="#555"/>
<rect x="113.7" y="70.8" width="0.8" height="0.8" fill="#555"/>
<rect x="121.3" y="74.9" width="0.8" height="0.8" fill="#555"/>
<rect x="108.4" y="79.2" width="0.8" height="0.8" fill="#555"/>
<rect x="108.1" y="80.8" width="0.8" height="0.8" fill="#555"/>
<rect x="112.0" y="75.3" width="0.8" height="0.8" fill="#555"/>
<rect x="118.3" y="75.1" width="0.8" height="0.8" fill="#555"/>
<rect x="109.3" y="65.2" width="0.8" height="0.8" fill="#555"/>
<rect x="118.0" y="78.6" width="0.8" height="0.8" fill="#555"/>
<rect x="111.2" y="79.2" width="0.8" height="0.8" fill="#555"/>
<rect x="115.7" y="78.1" width="0.8" height="0.8" fill="#555"/>
<rect x="106.3" y="72.8" width="0.8" height="0.8" fill="#555"/>
<rect x="117.1" y="78.5" width="0.8" height="0.8" fill="#555"/>
<rect x="117.0" y="61.0" width="0.8" height="0.8" fill="#555"/>
<rect x="114.6" y="77.2" width="0.8" height="0.8" fill="#555"/>
<rect x="122.7" y="69.3" width="0.8" height="0.8" fill="#555"/>
<rect x="112.9" y="74.7" width="0.8" height="0.8" fill="#555"/>
<rect x="117.0" y="72.1" width="0.8" height="0.8" fill="#555"/>
<rect x="117.9" y="70.2" width="0.8" height="0.8" fill="#555"/>
<rect x="114.9" y="71.6" width="0.8" height="0.8" fill="#555"/>
<rect x="114.5" y="70.7" width="0.8" height="0.8" fill="#555"/>
<rect x="108.6" y="80.5" width="0.8" height="0.8" fill="#555"/>
<rect x="115.0" y="71.4" width="0.8" height="0.8" fill="#555"/>
<rect x="114.7" y="79.9" width="0.8" height="0.8" fill="#555"/>
<rect x="110.7" y="73.9" width="0.8" height="0.8" fill="#555"/>
<rect x="115.8" y="77.4" width="0.8" height="0.8" fill="#555"/>
<rect x="112.9" y="62.9" width="0.8" height="0.8" fill="#555"/>
<rect x="118.2" y="76.3" width="0.8" height="0.8" fill="#555"/>
<rect x="114.0" y="73.0" width="0.8" height="0.8" fill="#555"/>
<rect x="114.9" y="72.2" width="0.8" height="0.8" fill="#555"/>
<rect x="110.5" y="70.4" width="0.8" height="0.8" fill="#555"/>
<rect x="112.0" y="71.1" width="0.8" height="0.8" fill="#555"/>
<rect x="110.1" y="78.0" width="0.8" height="0.8" fill="#555"/>
<rect x="109.5" y="78.1" width="0.8" height="0.8" fill="#555"/>
<rect x="110.6" y="76.4" width="0.8" height="0.8" fill="#555"/>
<rect x="118.7" y="75.6" width="0.8" height="0.8" fill="#555"/>
<rect x="111.5" y="74.8" width="0.8" height="0.8" fill="#555"/>
<rect x="114.5" y="65.0" width="0.8" height="0.8" fill="#555"/>
<rect x="111.9" y="75.4" width="0.8" height="0.8" fill="#555"/>
<rect x="112.4" y="74.9" width="0.8" height="0.8" fill="#555"/>
<rect x="116.5" y="78.7" width="0.8" height="0.8" fill="#555"/>
<rect x="117.1" y="77.7" width="0.8" height="0.8" fill="#555"/>
<rect x="113.0" y="74.4" width="0.8" height="0.8" fill="#555"/>
<rect x="113.1" y="72.8" width="0.8" height="0.8" fill="#555"/>
<rect x="113.4" y="65.0" width="0.8" height="0.8" fill="#555"/>
<rect x="112.9" y="74.4" width="0.8" height="0.8" fill="#555"/>
<rect x="110.7" y="74.4" width="0.8" height="0.8" fill="#555"/>
<rect x="115.8" y="73.6" width="0.8" height="0.8" fill="#555"/>
<rect x="121.1" y="60.2" width="0.8" height="0.8" fill="#555"/>
<rect x="113.3" y="64.5" width="0.8" height="0.8" fill="#555"/>
<rect x="117.3" y="89.1" width="0.8" height="0.8" fill="#555"/>
<rect x="105.5" y="75.2" width="0.8" height="0.8" fill="#555"/>
<rect x="115.8" y="72.8" width="0.8" height="0.8" fill="#555"/>
<rect x="115.9" y="62.2" width="0.8" height="0.8" fill="#555"/>
<rect x="116.9" y="76.5" width="0.8" height="0.8" fill="#555"/>
<rect x="114.1" y="71.3" width="0.8" height="0.8" fill="#555"/>
<rect x="116.2" y="71.8" width="0.8" height="0.8" fill="#555"/>
<rect x="114.8" y="71.7" width="0.8" height="0.8" fill="#555"/>
<rect x="106.4" y="74.3" width="0.8" height="0.8" fill="#555"/>
<rect x="114.7" y="78.6" width="0.8" height="0.8" fill="#555"/>
<rect x="111.0" y="74.3" width="0.8" height="0.8" fill="#555"/>
<rect x="116.1" y="75.3" width="0.8" height="0.8" fill="#555"/>
<rect x="118.2" y="85.5" width="0.8" height="0.8" fill="#555"/>
<rect x="110.9" y="63.9" width="0.8" height="0.8" fill="#555"/>
<rect x="116.9" y="82.9" width="0.8" height="0.8" fill="#555"/>
<rect x="117.1" y="79.0" width="0.8" height="0.8" fill="#555"/>
<rect x="111.9" y="70.6" width="0.8" height="0.8" fill="#555"/>
<rect x="117.0" y="69.5" width="0.8" height="0.8" fill="#555"/>
<rect x="107.8" y="69.0" width="0.8" height="0.8" fill="#555"/>
<rect x="122.5" y="85.1" width="0.8" height="0.8" fill="#555"/>
<rect x="111.7" y="70.5" width="0.8" height="0.8" fill="#555"/>
<rect x="114.8" y="70.4" width="0.8" height="0.8" fill="#555"/>
<rect x="118.5" y="74.1" width="0.8" height="0.8" fill="#555"/>
<rect x="110.3" y="81.7" width="0.8" height="0.8" fill="#555"/>
<rect x="112.0" y="75.7" width="0.8" height="0.8" fill="#555"/>
<rect x="114.0" y="72.8" width="0.8" height="0.8" fill="#555"/>
<rect x="115.1" y="70.7" width="0.8" height="0.8" fill="#555"/>
<rect x="107.7" y="62.4" width="0.8" height="0.8" fill="#555"/>
<rect x="109.7" y="70.3" width="0.8" height="0.8" fill="#555"/>
<rect x="113.9" y="74.8" width="0.8" height="0.8" fill="#555"/>
<rect x="115.9" y="75.2" width="0.8" height="0.8" fill="#555"/>
<rect x="111.3" y="70.6" width="0.8" height="0.8" fill="#555"/>
<rect x="106.8" y="73.6" width="0.8" height="0.8" fill="#555"/>
<rect x="115.6" y="77.4" width="0.8" height="0.8" fill="#555"/>
<rect x="113.6" y="73.5" width="0.8" height="0.8" fill="#555"/>
<rect x="117.2" y="74.6" width="0.8" height="0.8" fill="#555"/>
<rect x="116.5" y="77.7" width="0.8" height="0.8" fill="#555"/>
<rect x="114.7" y="81.7" width="0.8" height="0.8" fill="#555"/>
<rect x="112.1" y="72.5" width="0.8" height="0.8" fill="#555"/>
<rect x="111.3" y="70.1" width="0.8" height="0.8" fill="#555"/>
<rect x="119.3" y="84.2" width="0.8" height="0.8" fill="#555"/>
<rect x="114.1" y="77.6" width="0.8" height="0.8" fill="#555"/>
<rect x="118.0" y="78.9" width="0.8" height="0.8" fill="#555"/>
<rect x="118.1" y="67.6" width="0.8" height="0.8" fill="#555"/>
<rect x="111.8" y="77.0" width="0.8" height="0.8" fill="#555"/>
<rect x="118.9" y="75.1" width="0.8" height="0.8" fill="#555"/>
<rect x="111.1" y="72.6" width="0.8" height="0.8" fill="#555"/>
<rect x="111.8" y="69.8" width="0.8" height="0.8" fill="#555"/>
<rect x="119.1" y="71.1" width="0.8" height="0.8" fill="#555"/>
<rect x="114.1" y="86.4" width="0.8" height="0.8" fill="#555"/>
<rect x="118.0" y="76.3" width="0.8" height="0.8" fill="#555"/>
<rect x="111.9" y="76.8" width="0.8" height="0.8" fill="#555"/>
<rect x="119.5" y="77.9" width="0.8" height="0.8" fill="#555"/>
<rect x="118.3" y="75.0" width="0.8" height="0.8" fill="#555"/>
<rect x="115.8" y="73.4" width="0.8" height="0.8" fill="#555"/>
<rect x="115.5" y="81.7" width="0.8" height="0.8" fill="#555"/>
<rect x="109.1" y="74.2" width="0.8" height="0.8" fill="#555"/>
<rect x="114.8" y="71.4" width="0.8" height="0.8" fill="#555"/>
<rect x="113.0" y="78.8" width="0.8" height="0.8" fill="#555"/>
<rect x="120.8" y="78.0" width="0.8" height="0.8" fill="#555"/>
<rect x="115.1" y="66.0" width="0.8" height="0.8" fill="#555"/>
<rect x="120.6" y="74.9" width="0.8" height="0.8" fill="#555"/>
<rect x="113.9" y="68.3" width="0.8" height="0.8" fill="#555"/>
<rect x="113.8" y="68.5" width="0.8" height="0.8" fill="#555"/>
<rect x="114.2" y="77.1" width="0.8" height="0.8" fill="#555"/>
<rect x="114.1" y="76.0" width="0.8" height="0.8" fill="#555"/>
<rect x="111.1" y="82.4" width="0.8" height="0.8" fill="#555"/>
<rect x="111.8" y="64.5" width="0.8" height="0.8" fill="#555"/>
<rect x="113.4" y="70.3" width="0.8" height="0.8" fill="#555"/>
<rect x="110.6" y="72.5" width="0.8" height="0.8" fill="#555"/>
<rect x="115.0" y="68.0" width="0.8" height="0.8" fill="#555"/>
<rect x="113.5" y="82.3" width="0.8" height="0.8" fill="#555"/>
<rect x="116.3" y="73.7" width="0.8" height="0.8" fill="#555"/>
<rect x="114.4" y="73.8" width="0.8" height="0.8" fill="#555"/>
<rect x="113.8" y="78.5" width="0.8" height="0.8" fill="#555"/>
<rect x="113.7" y="61.3" width="0.8" height="0.8" fill="#555"/>
<rect x="113.9" y="69.6" width="0.8" height="0.8" fill="#555"/>
<rect x="116.2" y="71.1" width="0.8" height="0.8" fill="#555"/>
<rect x="114.5" y="86.5" width="0.8" height="0.8" fill="#555"/>
<rect x="110.4" y="68.3" width="0.8" height="0.8" fill="#555"/>
<rect x="109.2" y="61.3" width="0.8" height="0.8" fill="#555"/>
<rect x="107.6" y="76.5" width="0.8" height="0.8" fill="#555"/>
<rect x="111.8" y="64.2" width="0.8" height="0.8" fill="#555"/>
<rect x="109.0" y="77.9" width="0.8" height="0.8" fill="#555"/>
<rect x="111.4" y="72.5" width="0.8" height="0.8" fill="#555"/>
<rect x="115.1" y="82.0" width="0.8" height="0.8" fill="#555"/>
<rect x="120.6" y="80.2" width="0.8" height="0.8" fill="#555"/>
<text x="127.5" y="30.2" font-size="7.6" text-anchor="end" textLength="12" lengthAdjust="spacingAndGlyphs" fill="#111" stroke="#111" stroke-width="0.15">1.57</text>
<text x="131.2" y="89.8" font-size="7.6" text-anchor="end" textLength="12.4" lengthAdjust="spacingAndGlyphs" fill="#111" stroke="#111" stroke-width="0.15">1.28</text>
<rect x="158.8" y="22.6" width="67.69" height="68.0" fill="none" stroke="#858585" stroke-width="0.7" />
<rect x="151.80" y="27.14" width="2.2" height="2.2" fill="#b5b5b5"/><rect x="154.00" y="26.24" width="1.2" height="1.4" fill="#c0c0c0"/>
<line x1="157.20" y1="28.04" x2="158.8" y2="28.04" stroke="#999" stroke-width="0.5" />
<rect x="151.80" y="40.06" width="2.2" height="2.2" fill="#b5b5b5"/><rect x="154.00" y="39.16" width="1.2" height="1.4" fill="#c0c0c0"/>
<line x1="157.20" y1="40.96" x2="158.8" y2="40.96" stroke="#999" stroke-width="0.5" />
<rect x="151.80" y="54.34" width="2.2" height="2.2" fill="#b5b5b5"/><rect x="154.00" y="53.44" width="1.2" height="1.4" fill="#c0c0c0"/>
<line x1="157.20" y1="55.24" x2="158.8" y2="55.24" stroke="#999" stroke-width="0.5" />
<rect x="151.80" y="68.62" width="2.2" height="2.2" fill="#b5b5b5"/><rect x="154.00" y="67.72" width="1.2" height="1.4" fill="#c0c0c0"/>
<line x1="157.20" y1="69.52" x2="158.8" y2="69.52" stroke="#999" stroke-width="0.5" />
<rect x="154.60" y="76.54" width="1.2" height="1.6" fill="#999"/>
<line x1="157.20" y1="77.34" x2="158.8" y2="77.34" stroke="#999" stroke-width="0.5" />
<rect x="179.19" y="93.40" width="1.2" height="1.8" fill="#999"/>
<line x1="179.78" y1="90.6" x2="179.78" y2="91.8" stroke="#999" stroke-width="0.5" />
<rect x="188.44" y="93.40" width="2" height="2.2" fill="#bbb"/><rect x="190.44" y="92.70" width="1.2" height="1.3" fill="#c8c8c8"/>
<line x1="189.94" y1="90.6" x2="189.94" y2="91.8" stroke="#999" stroke-width="0.5" />
<rect x="205.37" y="93.40" width="2" height="2.2" fill="#bbb"/><rect x="207.37" y="92.70" width="1.2" height="1.3" fill="#c8c8c8"/>
<line x1="206.86" y1="90.6" x2="206.86" y2="91.8" stroke="#999" stroke-width="0.5" />
<rect x="219.58" y="93.40" width="2" height="2.2" fill="#bbb"/><rect x="221.58" y="92.70" width="1.2" height="1.3" fill="#c8c8c8"/>
<line x1="221.08" y1="90.6" x2="221.08" y2="91.8" stroke="#999" stroke-width="0.5" />
<g filter="url(#densD)">
<ellipse cx="181.3" cy="54.5" rx="3.7" ry="10.5" fill="#000" fill-opacity="1" transform="rotate(0 181.3 54.5)"/>
<ellipse cx="180.8" cy="72" rx="3" ry="12.5" fill="#000" fill-opacity="0.42" transform="rotate(0 180.8 72)"/>
</g>
<g filter="url(#b3)"><path d="M181.3,47 L181.9,60 L181.5,72 L181,60 Z" fill="#e8e8e8"/></g>
<ellipse cx="179.7" cy="83.6" rx="2.6" ry="2.2" fill="none" stroke="#555" stroke-width="0.6" transform="rotate(0 179.7 83.6)"/>
<ellipse cx="179.7" cy="83.8" rx="1.2" ry="1" fill="none" stroke="#777" stroke-width="0.6" transform="rotate(0 179.7 83.8)"/>
<path d="M187.5,47.5 L192.6,50.3 L188.8,54.5" fill="none" stroke="#444" stroke-width="0.6"/>
<path d="M195.7,47.1 Q195.1,44.6 196.7,41.9 Q198.3,39.1 201.3,38.5 Q204.3,37.8 207.3,38.5 Q210.3,39.1 211.7,42.4 Q213.1,45.6 212.0,48.9 Q210.8,52.1 208.1,55.1 Q205.3,58.1 202.8,55.9 Q200.3,53.6 198.3,51.6 Q196.3,49.6 195.7,47.1 Z" fill="none" stroke="#333" stroke-width="0.6"/>
<path d="M197.6,47.2 Q197.1,45.3 198.4,43.1 Q199.6,41.0 202.0,40.5 Q204.3,40.0 206.6,40.5 Q209.0,41.0 210.1,43.5 Q211.2,46.0 210.3,48.6 Q209.4,51.1 207.2,53.5 Q205.1,55.8 203.1,54.0 Q201.2,52.3 199.6,50.7 Q198.1,49.2 197.6,47.2 Z" fill="none" stroke="#555" stroke-width="0.6"/>
<path d="M199.5,47.3 Q199.1,45.9 200.0,44.4 Q200.9,42.8 202.6,42.5 Q204.3,42.1 206.0,42.5 Q207.7,42.8 208.4,44.7 Q209.2,46.5 208.6,48.3 Q207.9,50.1 206.4,51.8 Q204.9,53.5 203.5,52.2 Q202.1,51.0 200.9,49.8 Q199.8,48.7 199.5,47.3 Z" fill="none" stroke="#666" stroke-width="0.6"/>
<path d="M201.4,47.4 Q201.2,46.6 201.7,45.6 Q202.3,44.7 203.3,44.5 Q204.3,44.3 205.3,44.5 Q206.3,44.7 206.8,45.8 Q207.3,46.9 206.9,48.0 Q206.5,49.1 205.6,50.2 Q204.6,51.2 203.8,50.4 Q202.9,49.6 202.3,49.0 Q201.6,48.3 201.4,47.4 Z" fill="none" stroke="#777" stroke-width="0.6"/>
<path d="M203.1,47.5 Q203.0,47.2 203.2,46.8 Q203.5,46.4 203.9,46.3 Q204.3,46.2 204.7,46.3 Q205.1,46.4 205.3,46.9 Q205.5,47.3 205.4,47.8 Q205.2,48.2 204.8,48.7 Q204.4,49.1 204.1,48.8 Q203.7,48.4 203.5,48.2 Q203.2,47.9 203.1,47.5 Z" fill="none" stroke="#999" stroke-width="0.6"/>
<rect x="196.6" y="64.2" width="16.2" height="18.1" fill="none" stroke="#959595" stroke-width="0.6" />
<rect x="200.0" y="66.4" width="0.6" height="0.6" fill="#aaa"/>
<rect x="199.5" y="79.9" width="0.6" height="0.6" fill="#aaa"/>
<rect x="202.8" y="68.1" width="0.6" height="0.6" fill="#aaa"/>
<rect x="198.4" y="66.6" width="0.6" height="0.6" fill="#aaa"/>
<rect x="207.7" y="75.5" width="0.6" height="0.6" fill="#aaa"/>
<rect x="207.8" y="77.1" width="0.6" height="0.6" fill="#aaa"/>
<rect x="198.9" y="74.9" width="0.6" height="0.6" fill="#aaa"/>
<rect x="203.1" y="78.3" width="0.6" height="0.6" fill="#aaa"/>
<rect x="209.5" y="79.4" width="0.6" height="0.6" fill="#aaa"/>
<rect x="198.9" y="79.0" width="0.6" height="0.6" fill="#aaa"/>
<rect x="210.8" y="80.2" width="0.6" height="0.6" fill="#aaa"/>
<rect x="199.5" y="69.1" width="0.6" height="0.6" fill="#aaa"/>
<text x="211.2" y="33.2" font-size="7.6" text-anchor="end" textLength="13.5" lengthAdjust="spacingAndGlyphs" fill="#111" stroke="#111" stroke-width="0.15">8.44</text>
<text x="225.6" y="89.6" font-size="7.6" text-anchor="end" textLength="17.8" lengthAdjust="spacingAndGlyphs" fill="#111" stroke="#111" stroke-width="0.15">0.893</text>
<rect x="276.8" y="23.1" width="67.0" height="67.30" fill="none" stroke="#858585" stroke-width="0.7" />
<rect x="269.80" y="26.91" width="2.2" height="2.2" fill="#b5b5b5"/><rect x="272.00" y="26.01" width="1.2" height="1.4" fill="#c0c0c0"/>
<line x1="275.2" y1="27.81" x2="276.8" y2="27.81" stroke="#999" stroke-width="0.5" />
<rect x="269.80" y="41.04" width="2.2" height="2.2" fill="#b5b5b5"/><rect x="272.00" y="40.14" width="1.2" height="1.4" fill="#c0c0c0"/>
<line x1="275.2" y1="41.94" x2="276.8" y2="41.94" stroke="#999" stroke-width="0.5" />
<rect x="269.80" y="55.85" width="2.2" height="2.2" fill="#b5b5b5"/><rect x="272.00" y="54.95" width="1.2" height="1.4" fill="#c0c0c0"/>
<line x1="275.2" y1="56.75" x2="276.8" y2="56.75" stroke="#999" stroke-width="0.5" />
<rect x="272.60" y="62.68" width="1.2" height="1.6" fill="#999"/>
<line x1="275.2" y1="63.48" x2="276.8" y2="63.48" stroke="#999" stroke-width="0.5" />
<rect x="290.94" y="93.20" width="1.2" height="1.8" fill="#999"/>
<line x1="291.54" y1="90.4" x2="291.54" y2="91.60" stroke="#999" stroke-width="0.5" />
<rect x="299.42" y="93.20" width="2" height="2.2" fill="#bbb"/><rect x="301.42" y="92.50" width="1.2" height="1.3" fill="#c8c8c8"/>
<line x1="300.92" y1="90.4" x2="300.92" y2="91.60" stroke="#999" stroke-width="0.5" />
<rect x="313.49" y="93.20" width="2" height="2.2" fill="#bbb"/><rect x="315.49" y="92.50" width="1.2" height="1.3" fill="#c8c8c8"/>
<line x1="314.99" y1="90.4" x2="314.99" y2="91.60" stroke="#999" stroke-width="0.5" />
<rect x="326.22" y="93.20" width="2" height="2.2" fill="#bbb"/><rect x="328.22" y="92.50" width="1.2" height="1.3" fill="#c8c8c8"/>
<line x1="327.72" y1="90.4" x2="327.72" y2="91.60" stroke="#999" stroke-width="0.5" />
<rect x="337.61" y="93.20" width="2" height="2.2" fill="#bbb"/><rect x="339.61" y="92.50" width="1.2" height="1.3" fill="#c8c8c8"/>
<line x1="339.11" y1="90.4" x2="339.11" y2="91.60" stroke="#999" stroke-width="0.5" />
<line x1="314.6" y1="23.1" x2="314.6" y2="90.4" stroke="#8c8c8c" stroke-width="0.7" />
<line x1="276.8" y1="56.5" x2="343.8" y2="56.5" stroke="#8c8c8c" stroke-width="0.7" />
<g filter="url(#densG)">
<ellipse cx="327.3" cy="62.5" rx="5" ry="3.4" fill="#000" fill-opacity="1" transform="rotate(0 327.3 62.5)"/>
<ellipse cx="322" cy="62.3" rx="4.5" ry="2.6" fill="#000" fill-opacity="0.45" transform="rotate(0 322 62.3)"/>
</g>
<ellipse cx="325.5" cy="62.5" rx="9.8" ry="6.2" fill="none" stroke="#777" stroke-width="0.6" transform="rotate(0 325.5 62.5)"/>
<path d="M315.7,60 C312,58.5 306,58.5 304,61 C303,63.5 305,66 309,65.8 C312,65.6 314,65 315.7,64.6" fill="none" stroke="#555" stroke-width="0.6"/>
<ellipse cx="309.5" cy="62.3" rx="2.6" ry="1.6" fill="none" stroke="#777" stroke-width="0.6" transform="rotate(0 309.5 62.3)"/>
<ellipse cx="318.5" cy="62" rx="2.5" ry="2.2" fill="none" stroke="#777" stroke-width="0.6" transform="rotate(0 318.5 62)"/>
<ellipse cx="308.3" cy="46.2" rx="1.6" ry="1.4" fill="none" stroke="#555" stroke-width="0.6" transform="rotate(0 308.3 46.2)"/>
<text x="278.8" y="31" font-size="7.6" textLength="13.8" lengthAdjust="spacingAndGlyphs" fill="#111" stroke="#111" stroke-width="0.15">2.56</text>
<text x="343" y="31" font-size="7.6" text-anchor="end" fill="#111" stroke="#111" stroke-width="0.15">0</text>
<text x="278.8" y="88.8" font-size="7.6" textLength="13.8" lengthAdjust="spacingAndGlyphs" fill="#111" stroke="#111" stroke-width="0.15">3.85</text>
<text x="343" y="88.8" font-size="7.6" text-anchor="end" textLength="14.2" lengthAdjust="spacingAndGlyphs" fill="#111" stroke="#111" stroke-width="0.15">93.6</text>
<rect x="64" y="109.8" width="67.9" height="67.7" fill="none" stroke="#858585" stroke-width="0.7" />
<rect x="57.00" y="114.32" width="2.2" height="2.2" fill="#b5b5b5"/><rect x="59.20" y="113.42" width="1.2" height="1.4" fill="#c0c0c0"/>
<line x1="62.4" y1="115.21" x2="64" y2="115.21" stroke="#999" stroke-width="0.5" />
<rect x="57.00" y="127.18" width="2.2" height="2.2" fill="#b5b5b5"/><rect x="59.20" y="126.28" width="1.2" height="1.4" fill="#c0c0c0"/>
<line x1="62.4" y1="128.07" x2="64" y2="128.07" stroke="#999" stroke-width="0.5" />
<rect x="57.00" y="141.40" width="2.2" height="2.2" fill="#b5b5b5"/><rect x="59.20" y="140.50" width="1.2" height="1.4" fill="#c0c0c0"/>
<line x1="62.4" y1="142.29" x2="64" y2="142.29" stroke="#999" stroke-width="0.5" />
<rect x="57.00" y="155.61" width="2.2" height="2.2" fill="#b5b5b5"/><rect x="59.20" y="154.71" width="1.2" height="1.4" fill="#c0c0c0"/>
<line x1="62.4" y1="156.51" x2="64" y2="156.51" stroke="#999" stroke-width="0.5" />
<rect x="59.80" y="163.50" width="1.2" height="1.6" fill="#999"/>
<line x1="62.4" y1="164.29" x2="64" y2="164.29" stroke="#999" stroke-width="0.5" />
<rect x="84.45" y="180.30" width="1.2" height="1.8" fill="#999"/>
<line x1="85.04" y1="177.5" x2="85.04" y2="178.7" stroke="#999" stroke-width="0.5" />
<rect x="93.73" y="180.30" width="2" height="2.2" fill="#bbb"/><rect x="95.73" y="179.60" width="1.2" height="1.3" fill="#c8c8c8"/>
<line x1="95.23" y1="177.5" x2="95.23" y2="178.7" stroke="#999" stroke-width="0.5" />
<rect x="110.71" y="180.30" width="2" height="2.2" fill="#bbb"/><rect x="112.71" y="179.60" width="1.2" height="1.3" fill="#c8c8c8"/>
<line x1="112.20" y1="177.5" x2="112.20" y2="178.7" stroke="#999" stroke-width="0.5" />
<rect x="124.97" y="180.30" width="2" height="2.2" fill="#bbb"/><rect x="126.97" y="179.60" width="1.2" height="1.3" fill="#c8c8c8"/>
<line x1="126.46" y1="177.5" x2="126.46" y2="178.7" stroke="#999" stroke-width="0.5" />
<rect x="71.6" y="136.4" width="0.6" height="0.6" fill="#999"/>
<rect x="95.1" y="168.3" width="0.6" height="0.6" fill="#999"/>
<rect x="88.3" y="168.8" width="0.6" height="0.6" fill="#999"/>
<rect x="88.2" y="146.8" width="0.6" height="0.6" fill="#999"/>
<rect x="71.2" y="139.0" width="0.6" height="0.6" fill="#999"/>
<rect x="92.2" y="143.4" width="0.6" height="0.6" fill="#999"/>
<rect x="78.2" y="152.4" width="0.6" height="0.6" fill="#999"/>
<rect x="68.7" y="145.5" width="0.6" height="0.6" fill="#999"/>
<rect x="77.0" y="164.3" width="0.6" height="0.6" fill="#999"/>
<rect x="79.8" y="148.2" width="0.6" height="0.6" fill="#999"/>
<rect x="98.8" y="155.7" width="0.6" height="0.6" fill="#999"/>
<rect x="95.2" y="160.3" width="0.6" height="0.6" fill="#999"/>
<rect x="69.0" y="151.9" width="0.6" height="0.6" fill="#999"/>
<rect x="82.0" y="166.7" width="0.6" height="0.6" fill="#999"/>
<rect x="79.1" y="163.9" width="0.6" height="0.6" fill="#999"/>
<rect x="85.2" y="143.9" width="0.6" height="0.6" fill="#999"/>
<rect x="95.6" y="138.7" width="0.6" height="0.6" fill="#999"/>
<rect x="94.2" y="142.0" width="0.6" height="0.6" fill="#999"/>
<rect x="68.0" y="143.3" width="0.6" height="0.6" fill="#999"/>
<rect x="92.4" y="175.1" width="0.6" height="0.6" fill="#999"/>
<rect x="68.1" y="155.1" width="0.6" height="0.6" fill="#999"/>
<rect x="83.7" y="167.7" width="0.6" height="0.6" fill="#999"/>
<rect x="73.9" y="155.3" width="0.6" height="0.6" fill="#999"/>
<rect x="79.1" y="169.1" width="0.6" height="0.6" fill="#999"/>
<rect x="76.3" y="173.7" width="0.6" height="0.6" fill="#999"/>
<rect x="77.1" y="143.8" width="0.6" height="0.6" fill="#999"/>
<rect x="90.4" y="155.4" width="0.6" height="0.6" fill="#999"/>
<rect x="71.5" y="161.1" width="0.6" height="0.6" fill="#999"/>
<rect x="70.6" y="167.3" width="0.6" height="0.6" fill="#999"/>
<rect x="90.3" y="167.3" width="0.6" height="0.6" fill="#999"/>
<rect x="88.1" y="149.6" width="0.6" height="0.6" fill="#999"/>
<rect x="80.8" y="151.2" width="0.6" height="0.6" fill="#999"/>
<rect x="96.5" y="138.5" width="0.6" height="0.6" fill="#999"/>
<rect x="96.4" y="136.0" width="0.6" height="0.6" fill="#999"/>
<rect x="74.6" y="145.8" width="0.6" height="0.6" fill="#999"/>
<rect x="96.8" y="155.5" width="0.6" height="0.6" fill="#999"/>
<rect x="80.1" y="171.2" width="0.6" height="0.6" fill="#999"/>
<rect x="75.5" y="153.9" width="0.6" height="0.6" fill="#999"/>
<rect x="85.0" y="165.9" width="0.6" height="0.6" fill="#999"/>
<rect x="92.1" y="161.5" width="0.6" height="0.6" fill="#999"/>
<rect x="79.2" y="148.4" width="0.6" height="0.6" fill="#999"/>
<rect x="73.0" y="169.6" width="0.6" height="0.6" fill="#999"/>
<rect x="89.2" y="165.4" width="0.6" height="0.6" fill="#999"/>
<rect x="73.4" y="153.0" width="0.6" height="0.6" fill="#999"/>
<rect x="92.7" y="158.7" width="0.6" height="0.6" fill="#999"/>
<rect x="72.0" y="153.9" width="0.6" height="0.6" fill="#999"/>
<rect x="96.3" y="144.8" width="0.6" height="0.6" fill="#999"/>
<rect x="74.1" y="147.4" width="0.6" height="0.6" fill="#999"/>
<rect x="90.5" y="169.6" width="0.6" height="0.6" fill="#999"/>
<rect x="72.9" y="141.4" width="0.6" height="0.6" fill="#999"/>
<rect x="75.9" y="148.4" width="0.6" height="0.6" fill="#999"/>
<rect x="84.7" y="141.6" width="0.6" height="0.6" fill="#999"/>
<rect x="78.5" y="142.8" width="0.6" height="0.6" fill="#999"/>
<rect x="99.2" y="164.9" width="0.6" height="0.6" fill="#999"/>
<rect x="71.3" y="174.5" width="0.6" height="0.6" fill="#999"/>
<rect x="71.3" y="150.8" width="0.6" height="0.6" fill="#999"/>
<rect x="99.5" y="167.6" width="0.6" height="0.6" fill="#999"/>
<rect x="91.5" y="152.8" width="0.6" height="0.6" fill="#999"/>
<rect x="74.3" y="161.2" width="0.6" height="0.6" fill="#999"/>
<rect x="71.4" y="143.5" width="0.6" height="0.6" fill="#999"/>
<g filter="url(#densD2)">
<ellipse cx="87.8" cy="162.5" rx="4.6" ry="9" fill="#000" fill-opacity="0.9" transform="rotate(0 87.8 162.5)"/>
<ellipse cx="86.8" cy="147" rx="6.4" ry="13" fill="#000" fill-opacity="0.24" transform="rotate(6 86.8 147)"/>
</g>
<path d="M79.6,150.7 C71.6,147.2 65.1,153.2 66.4,159.2 C67.1,165.2 72.6,170.2 79.6,168.2" fill="none" stroke="#555" stroke-width="0.6"/>
<path d="M77.7,153.4 C72.2,151.0 67.8,155.1 68.7,159.2 C69.2,163.3 72.9,166.7 77.7,165.3" fill="none" stroke="#666" stroke-width="0.6"/>
<path d="M75.9,156.0 C72.8,154.6 70.4,156.9 70.9,159.2 C71.1,161.5 73.2,163.4 75.9,162.6" fill="none" stroke="#777" stroke-width="0.6"/>
<ellipse cx="112.7" cy="133" rx="8.6" ry="6.1" fill="none" stroke="#333" stroke-width="0.7" transform="rotate(-22 112.7 133)"/>
<rect x="111.0" y="128.3" width="0.6" height="0.6" fill="#aaa"/>
<rect x="111.2" y="135.9" width="0.6" height="0.6" fill="#aaa"/>
<rect x="115.0" y="133.0" width="0.6" height="0.6" fill="#aaa"/>
<rect x="114.2" y="132.6" width="0.6" height="0.6" fill="#aaa"/>
<rect x="107.8" y="134.0" width="0.6" height="0.6" fill="#aaa"/>
<rect x="111.3" y="135.4" width="0.6" height="0.6" fill="#aaa"/>
<rect x="117.8" y="132.3" width="0.6" height="0.6" fill="#aaa"/>
<rect x="113.5" y="135.5" width="0.6" height="0.6" fill="#aaa"/>
<ellipse cx="115.3" cy="144.8" rx="0.8" ry="0.8" fill="none" stroke="#888" stroke-width="0.6" transform="rotate(0 115.3 144.8)"/>
<rect x="104.2" y="150.6" width="15.8" height="19.9" fill="none" stroke="#959595" stroke-width="0.6" />
<ellipse cx="112.8" cy="161.8" rx="5.6" ry="8.8" fill="none" stroke="#555" stroke-width="0.6" transform="rotate(0 112.8 161.8)"/>
<ellipse cx="112.8" cy="161.8" rx="4.03" ry="6.33" fill="none" stroke="#666" stroke-width="0.6" transform="rotate(0 112.8 161.8)"/>
<ellipse cx="112.8" cy="161.8" rx="2.57" ry="4.04" fill="none" stroke="#666" stroke-width="0.6" transform="rotate(0 112.8 161.8)"/>
<ellipse cx="112.8" cy="161.8" rx="1.23" ry="1.93" fill="none" stroke="#888" stroke-width="0.6" transform="rotate(0 112.8 161.8)"/>
<text x="121.2" y="121.2" font-size="7.6" text-anchor="end" textLength="17.7" lengthAdjust="spacingAndGlyphs" fill="#111" stroke="#111" stroke-width="0.15">0.459</text>
<text x="130.8" y="176.2" font-size="7.6" text-anchor="end" textLength="13.4" lengthAdjust="spacingAndGlyphs" fill="#111" stroke="#111" stroke-width="0.15">3.89</text>
<rect x="158.8" y="109.8" width="67.69" height="67.7" fill="none" stroke="#858585" stroke-width="0.7" />
<rect x="151.80" y="114.32" width="2.2" height="2.2" fill="#b5b5b5"/><rect x="154.00" y="113.42" width="1.2" height="1.4" fill="#c0c0c0"/>
<line x1="157.20" y1="115.21" x2="158.8" y2="115.21" stroke="#999" stroke-width="0.5" />
<rect x="151.80" y="127.18" width="2.2" height="2.2" fill="#b5b5b5"/><rect x="154.00" y="126.28" width="1.2" height="1.4" fill="#c0c0c0"/>
<line x1="157.20" y1="128.07" x2="158.8" y2="128.07" stroke="#999" stroke-width="0.5" />
<rect x="151.80" y="141.40" width="2.2" height="2.2" fill="#b5b5b5"/><rect x="154.00" y="140.50" width="1.2" height="1.4" fill="#c0c0c0"/>
<line x1="157.20" y1="142.29" x2="158.8" y2="142.29" stroke="#999" stroke-width="0.5" />
<rect x="151.80" y="155.61" width="2.2" height="2.2" fill="#b5b5b5"/><rect x="154.00" y="154.71" width="1.2" height="1.4" fill="#c0c0c0"/>
<line x1="157.20" y1="156.51" x2="158.8" y2="156.51" stroke="#999" stroke-width="0.5" />
<rect x="154.60" y="163.50" width="1.2" height="1.6" fill="#999"/>
<line x1="157.20" y1="164.29" x2="158.8" y2="164.29" stroke="#999" stroke-width="0.5" />
<rect x="179.19" y="180.30" width="1.2" height="1.8" fill="#999"/>
<line x1="179.78" y1="177.5" x2="179.78" y2="178.7" stroke="#999" stroke-width="0.5" />
<rect x="188.44" y="180.30" width="2" height="2.2" fill="#bbb"/><rect x="190.44" y="179.60" width="1.2" height="1.3" fill="#c8c8c8"/>
<line x1="189.94" y1="177.5" x2="189.94" y2="178.7" stroke="#999" stroke-width="0.5" />
<rect x="205.37" y="180.30" width="2" height="2.2" fill="#bbb"/><rect x="207.37" y="179.60" width="1.2" height="1.3" fill="#c8c8c8"/>
<line x1="206.86" y1="177.5" x2="206.86" y2="178.7" stroke="#999" stroke-width="0.5" />
<rect x="219.58" y="180.30" width="2" height="2.2" fill="#bbb"/><rect x="221.58" y="179.60" width="1.2" height="1.3" fill="#c8c8c8"/>
<line x1="221.08" y1="177.5" x2="221.08" y2="178.7" stroke="#999" stroke-width="0.5" />
<g filter="url(#densD3)">
<ellipse cx="180.7" cy="148.5" rx="3.3" ry="15.5" fill="#000" fill-opacity="0.95" transform="rotate(0 180.7 148.5)"/>
<ellipse cx="180.7" cy="165" rx="2.7" ry="8.5" fill="#000" fill-opacity="0.4" transform="rotate(0 180.7 165)"/>
</g>
<g filter="url(#b3)"><ellipse cx="180.8" cy="140" rx="0.6" ry="1.8" fill="#ccc"/><ellipse cx="180.8" cy="154.8" rx="0.6" ry="1.8" fill="#ccc"/></g>
<path d="M191.6,136.9 Q191.0,134.4 192.3,131.2 Q193.6,127.9 197.1,127.1 Q200.6,126.2 203.8,126.6 Q207.1,126.9 208.3,129.7 Q209.6,132.4 207.8,135.7 Q206.1,138.9 201.8,139.9 Q197.6,141.0 194.8,140.2 Q192.1,139.4 191.6,136.9 Z" fill="none" stroke="#333" stroke-width="0.65"/>
<path d="M195.0,135.6 Q194.6,134.0 195.5,132.0 Q196.3,130.0 198.4,129.5 Q200.6,128.9 202.6,129.2 Q204.6,129.4 205.4,131.1 Q206.2,132.8 205.1,134.8 Q204.0,136.8 201.4,137.5 Q198.7,138.1 197.0,137.6 Q195.3,137.1 195.0,135.6 Z" fill="none" stroke="#444" stroke-width="0.65"/>
<path d="M197.5,134.6 Q197.3,133.7 197.8,132.6 Q198.2,131.5 199.4,131.2 Q200.6,131.0 201.7,131.1 Q202.8,131.2 203.2,132.1 Q203.7,133.1 203.1,134.2 Q202.5,135.3 201.0,135.6 Q199.6,136.0 198.6,135.7 Q197.7,135.4 197.5,134.6 Z" fill="none" stroke="#555" stroke-width="0.65"/>
<rect x="188.2" y="154" width="17.2" height="17" fill="none" stroke="#959595" stroke-width="0.6" />
<path d="M192,158 C193,155.5 197,156 197.5,158.5 C199,157 203,157.5 203,160.5 C203.5,164 201,168 197,168.5 C193.5,169 191.5,166.5 193,164 C195,162.5 191,161 192,158 Z" fill="none" stroke="#444" stroke-width="0.6"/>
<path d="M194,158.8 C195,157.8 196.3,158.6 195.6,159.8 C194.8,160.6 193.6,160 194,158.8 Z" fill="none" stroke="#666" stroke-width="0.6"/>
<path d="M199.5,160.5 C201,159.5 202,161 201.3,163 C200.5,165.5 198,166.5 196.5,165.5 C196,164 198.5,162.5 199.5,160.5 Z" fill="none" stroke="#666" stroke-width="0.6"/>
<path d="M201.5,153.8 C200.5,150.5 202,147.8 204,148.2 C206,148.8 206,152.5 204.5,153.8" fill="none" stroke="#555" stroke-width="0.6"/>
<text x="211.5" y="121.2" font-size="7.6" text-anchor="end" textLength="14" lengthAdjust="spacingAndGlyphs" fill="#111" stroke="#111" stroke-width="0.15">3.49</text>
<text x="225.5" y="176.3" font-size="7.6" text-anchor="end" textLength="14.2" lengthAdjust="spacingAndGlyphs" fill="#111" stroke="#111" stroke-width="0.15">4.83</text>
<rect x="276.8" y="110.2" width="67.0" height="67.3" fill="none" stroke="#858585" stroke-width="0.7" />
<rect x="269.80" y="114.01" width="2.2" height="2.2" fill="#b5b5b5"/><rect x="272.00" y="113.11" width="1.2" height="1.4" fill="#c0c0c0"/>
<line x1="275.2" y1="114.91" x2="276.8" y2="114.91" stroke="#999" stroke-width="0.5" />
<rect x="269.80" y="128.14" width="2.2" height="2.2" fill="#b5b5b5"/><rect x="272.00" y="127.24" width="1.2" height="1.4" fill="#c0c0c0"/>
<line x1="275.2" y1="129.04" x2="276.8" y2="129.04" stroke="#999" stroke-width="0.5" />
<rect x="269.80" y="142.95" width="2.2" height="2.2" fill="#b5b5b5"/><rect x="272.00" y="142.05" width="1.2" height="1.4" fill="#c0c0c0"/>
<line x1="275.2" y1="143.85" x2="276.8" y2="143.85" stroke="#999" stroke-width="0.5" />
<rect x="272.60" y="149.78" width="1.2" height="1.6" fill="#999"/>
<line x1="275.2" y1="150.57" x2="276.8" y2="150.57" stroke="#999" stroke-width="0.5" />
<rect x="290.94" y="180.30" width="1.2" height="1.8" fill="#999"/>
<line x1="291.54" y1="177.5" x2="291.54" y2="178.7" stroke="#999" stroke-width="0.5" />
<rect x="299.42" y="180.30" width="2" height="2.2" fill="#bbb"/><rect x="301.42" y="179.60" width="1.2" height="1.3" fill="#c8c8c8"/>
<line x1="300.92" y1="177.5" x2="300.92" y2="178.7" stroke="#999" stroke-width="0.5" />
<rect x="313.49" y="180.30" width="2" height="2.2" fill="#bbb"/><rect x="315.49" y="179.60" width="1.2" height="1.3" fill="#c8c8c8"/>
<line x1="314.99" y1="177.5" x2="314.99" y2="178.7" stroke="#999" stroke-width="0.5" />
<rect x="326.22" y="180.30" width="2" height="2.2" fill="#bbb"/><rect x="328.22" y="179.60" width="1.2" height="1.3" fill="#c8c8c8"/>
<line x1="327.72" y1="177.5" x2="327.72" y2="178.7" stroke="#999" stroke-width="0.5" />
<rect x="337.61" y="180.30" width="2" height="2.2" fill="#bbb"/><rect x="339.61" y="179.60" width="1.2" height="1.3" fill="#c8c8c8"/>
<line x1="339.11" y1="177.5" x2="339.11" y2="178.7" stroke="#999" stroke-width="0.5" />
<line x1="314.6" y1="110.2" x2="314.6" y2="177.5" stroke="#8c8c8c" stroke-width="0.7" />
<line x1="276.8" y1="145.2" x2="343.8" y2="145.2" stroke="#8c8c8c" stroke-width="0.7" />
<g filter="url(#densG)">
<ellipse cx="325" cy="158" rx="7.2" ry="6.8" fill="#000" fill-opacity="0.42" transform="rotate(0 325 158)"/>
<ellipse cx="328.7" cy="159" rx="2.8" ry="3.6" fill="#000" fill-opacity="0.6" transform="rotate(0 328.7 159)"/>
</g>
<ellipse cx="325" cy="158" rx="10.4" ry="10" fill="none" stroke="#777" stroke-width="0.6" transform="rotate(0 325 158)"/>
<path d="M314.6,151.6 C309,150.5 302.5,152.5 300.2,156 C302,160 309,161.5 314.6,160.5" fill="none" stroke="#555" stroke-width="0.6"/>
<path d="M314.6,153.8 C310.5,153 306.5,154.2 305,156.2 C306.5,158.5 311,159.3 314.6,158.6" fill="none" stroke="#666" stroke-width="0.6"/>
<path d="M296,134 C299,131.8 306,132.5 308.5,137.5 C310.5,142.5 307,148 302,148.5 C298.5,148.5 297,146.5 298.5,144.5 C301.5,143.5 302,140.5 300,138.5 C298,137.5 294.5,136.5 296,134 Z" fill="none" stroke="#555" stroke-width="0.6"/>
<path d="M299.5,135 C303,134.5 305.5,137 305.6,140.5 C305.6,143.5 303.5,145.8 301.5,145.6 C304,143 304,138.5 299.5,135 Z" fill="none" stroke="#777" stroke-width="0.6"/>
<ellipse cx="300.3" cy="145.5" rx="1.6" ry="1.3" fill="none" stroke="#666" stroke-width="0.6" transform="rotate(0 300.3 145.5)"/>
<ellipse cx="281.5" cy="140.2" rx="2.6" ry="2.4" fill="none" stroke="#666" stroke-width="0.6" transform="rotate(0 281.5 140.2)"/>
<ellipse cx="293" cy="156.8" rx="2.3" ry="2.1" fill="none" stroke="#666" stroke-width="0.6" transform="rotate(0 293 156.8)"/>
<text x="279" y="118.6" font-size="7.6" textLength="9.8" lengthAdjust="spacingAndGlyphs" fill="#111" stroke="#111" stroke-width="0.15">5.5</text>
<text x="343" y="118.6" font-size="7.6" text-anchor="end" textLength="17.3" lengthAdjust="spacingAndGlyphs" fill="#111" stroke="#111" stroke-width="0.15">0.459</text>
<text x="279" y="176.2" font-size="7.6" textLength="9.8" lengthAdjust="spacingAndGlyphs" fill="#111" stroke="#111" stroke-width="0.15">7.8</text>
<text x="343" y="176.2" font-size="7.6" text-anchor="end" textLength="14.7" lengthAdjust="spacingAndGlyphs" fill="#111" stroke="#111" stroke-width="0.15">86.7</text>
<line x1="46.9" y1="148" x2="46.9" y2="193.2" stroke="#000" stroke-width="1.5" />
<line x1="46.15" y1="193.2" x2="94" y2="193.2" stroke="#000" stroke-width="1.5" />
<path d="M43.8,149.8 L46.9,143.2 L50.0,149.8 Z" fill="#000"/>
<path d="M91.7,190.1 L98.3,193.2 L91.7,196.29 Z" fill="#000"/>
<line x1="263.4" y1="148.3" x2="263.4" y2="193.5" stroke="#000" stroke-width="1.5" />
<line x1="262.65" y1="193.5" x2="310" y2="193.5" stroke="#000" stroke-width="1.5" />
<path d="M260.29,150.10 L263.4,143.5 L266.5,150.10 Z" fill="#000"/>
<path d="M307.7,190.4 L314.3,193.5 L307.7,196.6 Z" fill="#000"/>
<text font-size="11.6" font-weight="bold" text-anchor="middle" textLength="36.5" lengthAdjust="spacingAndGlyphs" stroke="#000" stroke-width="0.2" transform="translate(42.2,170.1) rotate(-90)" >CD161</text>
<text font-size="12" font-weight="bold" text-anchor="middle" textLength="22.5" lengthAdjust="spacingAndGlyphs" stroke="#000" stroke-width="0.2" transform="translate(259.6,168.5) rotate(-90)" >CD4</text>
<text x="52" y="207" font-size="12.5" font-weight="bold" textLength="32" lengthAdjust="spacingAndGlyphs" stroke="#000" stroke-width="0.2" >V<tspan font-weight="normal" font-family="Liberation Serif" stroke-width="0">α</tspan>7.2</text>
<text x="268.2" y="206.6" font-size="12.5" font-weight="bold" textLength="24" lengthAdjust="spacingAndGlyphs" stroke="#000" stroke-width="0.2" >CD8</text>
<text x="383.6" y="15.2" font-size="14" font-weight="bold" stroke="#000" stroke-width="0.2" >B</text>
<text x="449" y="34" font-size="10.5" font-weight="bold" text-anchor="middle" textLength="30" lengthAdjust="spacingAndGlyphs" stroke="#000" stroke-width="0.2" >PBMC</text>
<text x="491.5" y="34" font-size="10.5" font-weight="bold" text-anchor="middle" textLength="29.5" lengthAdjust="spacingAndGlyphs" stroke="#000" stroke-width="0.2" >Rectal</text>
<text x="491.5" y="46" font-size="10.5" font-weight="bold" text-anchor="middle" textLength="38.5" lengthAdjust="spacingAndGlyphs" stroke="#000" stroke-width="0.2" >mucosa</text>
<text x="449.5" y="60" font-size="10.5" text-anchor="middle" textLength="35.5" lengthAdjust="spacingAndGlyphs" fill="#111" stroke="#111" stroke-width="0.3" >p=0.033</text>
<text x="488" y="60" font-size="10.5" text-anchor="middle" textLength="31.5" lengthAdjust="spacingAndGlyphs" fill="#111" stroke="#111" stroke-width="0.3" >p=0.65</text>
<line x1="439" y1="68.6" x2="458" y2="68.6" stroke="#000" stroke-width="1.5" />
<line x1="439" y1="65.39" x2="439" y2="71.8" stroke="#000" stroke-width="1.5" />
<line x1="458" y1="65.39" x2="458" y2="71.8" stroke="#000" stroke-width="1.5" />
<line x1="476.7" y1="68.6" x2="494.6" y2="68.6" stroke="#000" stroke-width="1.5" />
<line x1="476.7" y1="65.39" x2="476.7" y2="71.8" stroke="#000" stroke-width="1.5" />
<line x1="494.6" y1="65.39" x2="494.6" y2="71.8" stroke="#000" stroke-width="1.5" />
<line x1="432" y1="73.9" x2="432" y2="169" stroke="#000" stroke-width="1.6" />
<line x1="428.2" y1="74.4" x2="432" y2="74.4" stroke="#000" stroke-width="1.6" />
<line x1="429.8" y1="96.44" x2="432" y2="96.44" stroke="#000" stroke-width="1.0" />
<line x1="429.8" y1="90.88" x2="432" y2="90.88" stroke="#000" stroke-width="1.0" />
<line x1="429.8" y1="86.94" x2="432" y2="86.94" stroke="#000" stroke-width="1.0" />
<line x1="429.8" y1="83.89" x2="432" y2="83.89" stroke="#000" stroke-width="1.0" />
<line x1="429.8" y1="81.39" x2="432" y2="81.39" stroke="#000" stroke-width="1.0" />
<line x1="429.8" y1="79.28" x2="432" y2="79.28" stroke="#000" stroke-width="1.0" />
<line x1="429.8" y1="77.45" x2="432" y2="77.45" stroke="#000" stroke-width="1.0" />
<line x1="429.8" y1="75.84" x2="432" y2="75.84" stroke="#000" stroke-width="1.0" />
<line x1="428.2" y1="105.93" x2="432" y2="105.93" stroke="#000" stroke-width="1.6" />
<line x1="429.8" y1="127.97" x2="432" y2="127.97" stroke="#000" stroke-width="1.0" />
<line x1="429.8" y1="122.42" x2="432" y2="122.42" stroke="#000" stroke-width="1.0" />
<line x1="429.8" y1="118.48" x2="432" y2="118.48" stroke="#000" stroke-width="1.0" />
<line x1="429.8" y1="115.42" x2="432" y2="115.42" stroke="#000" stroke-width="1.0" />
<line x1="429.8" y1="112.92" x2="432" y2="112.92" stroke="#000" stroke-width="1.0" />
<line x1="429.8" y1="110.81" x2="432" y2="110.81" stroke="#000" stroke-width="1.0" />
<line x1="429.8" y1="108.98" x2="432" y2="108.98" stroke="#000" stroke-width="1.0" />
<line x1="429.8" y1="107.37" x2="432" y2="107.37" stroke="#000" stroke-width="1.0" />
<line x1="428.2" y1="137.46" x2="432" y2="137.46" stroke="#000" stroke-width="1.6" />
<line x1="429.8" y1="159.50" x2="432" y2="159.50" stroke="#000" stroke-width="1.0" />
<line x1="429.8" y1="153.95" x2="432" y2="153.95" stroke="#000" stroke-width="1.0" />
<line x1="429.8" y1="150.01" x2="432" y2="150.01" stroke="#000" stroke-width="1.0" />
<line x1="429.8" y1="146.95" x2="432" y2="146.95" stroke="#000" stroke-width="1.0" />
<line x1="429.8" y1="144.46" x2="432" y2="144.46" stroke="#000" stroke-width="1.0" />
<line x1="429.8" y1="142.35" x2="432" y2="142.35" stroke="#000" stroke-width="1.0" />
<line x1="429.8" y1="140.52" x2="432" y2="140.52" stroke="#000" stroke-width="1.0" />
<line x1="429.8" y1="138.90" x2="432" y2="138.90" stroke="#000" stroke-width="1.0" />
<line x1="428.2" y1="169.0" x2="432" y2="169.0" stroke="#000" stroke-width="1.6" />
<line x1="431.2" y1="169" x2="503" y2="169" stroke="#000" stroke-width="1.6" />
<text x="428.7" y="78.0" font-size="10" font-weight="bold" text-anchor="end" stroke="#000" stroke-width="0.2" >10</text>
<text x="428.7" y="109.53" font-size="10" font-weight="bold" text-anchor="end" stroke="#000" stroke-width="0.2" >1</text>
<text x="428.7" y="141.06" font-size="10" font-weight="bold" text-anchor="end" stroke="#000" stroke-width="0.2" >0.1</text>
<text x="428.7" y="172.59" font-size="10" font-weight="bold" text-anchor="end" stroke="#000" stroke-width="0.2" >0.01</text>
<line x1="441.5" y1="169" x2="441.5" y2="173" stroke="#000" stroke-width="1.3" />
<line x1="458.8" y1="169" x2="458.8" y2="173" stroke="#000" stroke-width="1.3" />
<line x1="476.7" y1="169" x2="476.7" y2="173" stroke="#000" stroke-width="1.3" />
<line x1="494" y1="169" x2="494" y2="173" stroke="#000" stroke-width="1.3" />
<line x1="441.5" y1="79.5" x2="441.5" y2="95.5" stroke="#000" stroke-width="1.5" />
<line x1="441.5" y1="113.4" x2="441.5" y2="117" stroke="#000" stroke-width="1.5" />
<line x1="438.2" y1="117" x2="444.8" y2="117" stroke="#000" stroke-width="1.5" />
<rect x="435.75" y="95.5" width="11.5" height="17.90" fill="#fff" stroke="#000" stroke-width="1.5" />
<line x1="435.75" y1="106" x2="447.25" y2="106" stroke="#000" stroke-width="1.5" />
<path d="M438.1,79.5 L441.5,76.6 L444.9,79.5 L441.5,82.4 Z" fill="#000"/>
<line x1="458.8" y1="91.8" x2="458.8" y2="110.5" stroke="#000" stroke-width="1.5" />
<line x1="458.8" y1="137.9" x2="458.8" y2="148.8" stroke="#000" stroke-width="1.5" />
<line x1="455.5" y1="91.8" x2="462.1" y2="91.8" stroke="#000" stroke-width="1.5" />
<rect x="453.05" y="110.5" width="11.5" height="27.40" fill="#808080" stroke="#000" stroke-width="1.5" />
<line x1="453.05" y1="119" x2="464.55" y2="119" stroke="#000" stroke-width="1.5" />
<path d="M455.7,92.39 L455.7,91.39 A3.1,3.6 0 0 1 461.90,91.39 L461.90,92.39 Z" fill="#000"/>
<path d="M455.40,148.8 L458.8,145.9 L462.2,148.8 L458.8,151.70 Z" fill="#000"/>
<line x1="476.7" y1="77.2" x2="476.7" y2="91.7" stroke="#000" stroke-width="1.5" />
<line x1="476.7" y1="109" x2="476.7" y2="112" stroke="#000" stroke-width="1.5" />
<line x1="473.4" y1="112" x2="480.0" y2="112" stroke="#000" stroke-width="1.5" />
<rect x="470.95" y="91.7" width="11.5" height="17.29" fill="#fff" stroke="#000" stroke-width="1.5" />
<line x1="470.95" y1="99" x2="482.45" y2="99" stroke="#000" stroke-width="1.5" />
<path d="M473.3,77.2 L476.7,74.3 L480.09,77.2 L476.7,80.10 Z" fill="#000"/>
<line x1="494" y1="79.8" x2="494" y2="91.4" stroke="#000" stroke-width="1.5" />
<line x1="494" y1="112.8" x2="494" y2="126.3" stroke="#000" stroke-width="1.5" />
<line x1="490.7" y1="79.8" x2="497.3" y2="79.8" stroke="#000" stroke-width="1.5" />
<line x1="490.7" y1="126.3" x2="497.3" y2="126.3" stroke="#000" stroke-width="1.5" />
<rect x="488.25" y="91.4" width="11.5" height="21.39" fill="#808080" stroke="#000" stroke-width="1.5" />
<line x1="488.25" y1="99.5" x2="499.75" y2="99.5" stroke="#000" stroke-width="1.5" />
<path d="M490.9,80.39 L490.9,79.39 A3.1,3.6 0 0 1 497.1,79.39 L497.1,80.39 Z" fill="#000"/>
<circle cx="494" cy="129.2" r="2.8" fill="#000" stroke="none" stroke-width="1.2"/>
<text x="429" y="184.6" font-size="10" font-weight="bold" text-anchor="end" textLength="19.5" lengthAdjust="spacingAndGlyphs" stroke="#000" stroke-width="0.2" >HIV:</text>
<text x="441.5" y="184.6" font-size="10" font-weight="bold" text-anchor="middle" stroke="#000" stroke-width="0.2" >-</text>
<text x="458.8" y="184.6" font-size="10" font-weight="bold" text-anchor="middle" stroke="#000" stroke-width="0.2" >+</text>
<text x="476.7" y="184.6" font-size="10" font-weight="bold" text-anchor="middle" stroke="#000" stroke-width="0.2" >-</text>
<text x="494" y="184.6" font-size="10" font-weight="bold" text-anchor="middle" stroke="#000" stroke-width="0.2" >+</text>
<text font-size="10.5" font-weight="bold" text-anchor="middle" textLength="124.5" lengthAdjust="spacingAndGlyphs" stroke="#000" stroke-width="0.2" transform="translate(395,119.5) rotate(-90)" >CD161+ V<tspan font-weight="normal" font-family="Liberation Serif" stroke-width="0">α</tspan>7.2+ MAIT cells</text>
<text font-size="10.5" font-weight="bold" text-anchor="middle" textLength="60.5" lengthAdjust="spacingAndGlyphs" stroke="#000" stroke-width="0.2" transform="translate(406.6,119.7) rotate(-90)" >(% of T cells)</text>
<text x="5" y="221.5" font-size="14" font-weight="bold" stroke="#000" stroke-width="0.2" >C</text>
<line x1="64.5" y1="250.0" x2="64.5" y2="352" stroke="#000" stroke-width="1.6" />
<line x1="60.7" y1="250.5" x2="64.5" y2="250.5" stroke="#000" stroke-width="1.6" />
<line x1="62.3" y1="268.23" x2="64.5" y2="268.23" stroke="#000" stroke-width="1.0" />
<line x1="62.3" y1="263.76" x2="64.5" y2="263.76" stroke="#000" stroke-width="1.0" />
<line x1="62.3" y1="260.59" x2="64.5" y2="260.59" stroke="#000" stroke-width="1.0" />
<line x1="62.3" y1="258.13" x2="64.5" y2="258.13" stroke="#000" stroke-width="1.0" />
<line x1="62.3" y1="256.12" x2="64.5" y2="256.12" stroke="#000" stroke-width="1.0" />
<line x1="62.3" y1="254.43" x2="64.5" y2="254.43" stroke="#000" stroke-width="1.0" />
<line x1="62.3" y1="252.95" x2="64.5" y2="252.95" stroke="#000" stroke-width="1.0" />
<line x1="62.3" y1="251.66" x2="64.5" y2="251.66" stroke="#000" stroke-width="1.0" />
<line x1="60.7" y1="275.87" x2="64.5" y2="275.87" stroke="#000" stroke-width="1.6" />
<line x1="62.3" y1="293.61" x2="64.5" y2="293.61" stroke="#000" stroke-width="1.0" />
<line x1="62.3" y1="289.14" x2="64.5" y2="289.14" stroke="#000" stroke-width="1.0" />
<line x1="62.3" y1="285.97" x2="64.5" y2="285.97" stroke="#000" stroke-width="1.0" />
<line x1="62.3" y1="283.51" x2="64.5" y2="283.51" stroke="#000" stroke-width="1.0" />
<line x1="62.3" y1="281.50" x2="64.5" y2="281.50" stroke="#000" stroke-width="1.0" />
<line x1="62.3" y1="279.80" x2="64.5" y2="279.80" stroke="#000" stroke-width="1.0" />
<line x1="62.3" y1="278.33" x2="64.5" y2="278.33" stroke="#000" stroke-width="1.0" />
<line x1="62.3" y1="277.03" x2="64.5" y2="277.03" stroke="#000" stroke-width="1.0" />
<line x1="60.7" y1="301.25" x2="64.5" y2="301.25" stroke="#000" stroke-width="1.6" />
<line x1="62.3" y1="318.98" x2="64.5" y2="318.98" stroke="#000" stroke-width="1.0" />
<line x1="62.3" y1="314.51" x2="64.5" y2="314.51" stroke="#000" stroke-width="1.0" />
<line x1="62.3" y1="311.34" x2="64.5" y2="311.34" stroke="#000" stroke-width="1.0" />
<line x1="62.3" y1="308.88" x2="64.5" y2="308.88" stroke="#000" stroke-width="1.0" />
<line x1="62.3" y1="306.87" x2="64.5" y2="306.87" stroke="#000" stroke-width="1.0" />
<line x1="62.3" y1="305.18" x2="64.5" y2="305.18" stroke="#000" stroke-width="1.0" />
<line x1="62.3" y1="303.70" x2="64.5" y2="303.70" stroke="#000" stroke-width="1.0" />
<line x1="62.3" y1="302.41" x2="64.5" y2="302.41" stroke="#000" stroke-width="1.0" />
<line x1="60.7" y1="326.62" x2="64.5" y2="326.62" stroke="#000" stroke-width="1.6" />
<line x1="62.3" y1="344.36" x2="64.5" y2="344.36" stroke="#000" stroke-width="1.0" />
<line x1="62.3" y1="339.89" x2="64.5" y2="339.89" stroke="#000" stroke-width="1.0" />
<line x1="62.3" y1="336.72" x2="64.5" y2="336.72" stroke="#000" stroke-width="1.0" />
<line x1="62.3" y1="334.26" x2="64.5" y2="334.26" stroke="#000" stroke-width="1.0" />
<line x1="62.3" y1="332.25" x2="64.5" y2="332.25" stroke="#000" stroke-width="1.0" />
<line x1="62.3" y1="330.55" x2="64.5" y2="330.55" stroke="#000" stroke-width="1.0" />
<line x1="62.3" y1="329.08" x2="64.5" y2="329.08" stroke="#000" stroke-width="1.0" />
<line x1="62.3" y1="327.78" x2="64.5" y2="327.78" stroke="#000" stroke-width="1.0" />
<line x1="60.7" y1="352.0" x2="64.5" y2="352.0" stroke="#000" stroke-width="1.6" />
<line x1="63.7" y1="352" x2="217.5" y2="352" stroke="#000" stroke-width="1.6" />
<text x="61.6" y="254.1" font-size="10" font-weight="bold" text-anchor="end" stroke="#000" stroke-width="0.2" >10</text>
<text x="61.6" y="279.48" font-size="10" font-weight="bold" text-anchor="end" stroke="#000" stroke-width="0.2" >1</text>
<text x="61.6" y="304.86" font-size="10" font-weight="bold" text-anchor="end" stroke="#000" stroke-width="0.2" >0.1</text>
<text x="61.6" y="330.24" font-size="10" font-weight="bold" text-anchor="end" stroke="#000" stroke-width="0.2" >0.01</text>
<text x="61.6" y="355.62" font-size="10" font-weight="bold" text-anchor="end" stroke="#000" stroke-width="0.2" >0.001</text>
<text x="89.5" y="234.1" font-size="11" text-anchor="middle" textLength="32.6" lengthAdjust="spacingAndGlyphs" fill="#111" stroke="#111" stroke-width="0.3" >p=0.97</text>
<text x="141.2" y="234.1" font-size="11" text-anchor="middle" textLength="45" lengthAdjust="spacingAndGlyphs" fill="#111" stroke="#111" stroke-width="0.3" >p=0.0093</text>
<text x="191" y="234.1" font-size="11" text-anchor="middle" textLength="33.5" lengthAdjust="spacingAndGlyphs" fill="#111" stroke="#111" stroke-width="0.3" >p=0.59</text>
<line x1="79.5" y1="244.25" x2="98.75" y2="244.25" stroke="#000" stroke-width="1.5" />
<line x1="79.5" y1="241.05" x2="79.5" y2="247.45" stroke="#000" stroke-width="1.5" />
<line x1="98.75" y1="241.05" x2="98.75" y2="247.45" stroke="#000" stroke-width="1.5" />
<line x1="131.25" y1="244.25" x2="150" y2="244.25" stroke="#000" stroke-width="1.5" />
<line x1="131.25" y1="241.05" x2="131.25" y2="247.45" stroke="#000" stroke-width="1.5" />
<line x1="150" y1="241.05" x2="150" y2="247.45" stroke="#000" stroke-width="1.5" />
<line x1="182" y1="244.25" x2="201.25" y2="244.25" stroke="#000" stroke-width="1.5" />
<line x1="182" y1="241.05" x2="182" y2="247.45" stroke="#000" stroke-width="1.5" />
<line x1="201.25" y1="241.05" x2="201.25" y2="247.45" stroke="#000" stroke-width="1.5" />
<line x1="80.5" y1="285" x2="80.5" y2="293" stroke="#000" stroke-width="1.5" />
<line x1="80.5" y1="307.5" x2="80.5" y2="315.5" stroke="#000" stroke-width="1.5" />
<line x1="76.5" y1="285" x2="84.5" y2="285" stroke="#000" stroke-width="1.5" />
<line x1="76.5" y1="315.5" x2="84.5" y2="315.5" stroke="#000" stroke-width="1.5" />
<rect x="74.0" y="293" width="13" height="14.5" fill="#fff" stroke="#000" stroke-width="1.5" />
<line x1="74.0" y1="301.25" x2="87.0" y2="301.25" stroke="#000" stroke-width="1.5" />
<line x1="99.5" y1="281.8" x2="99.5" y2="290.5" stroke="#000" stroke-width="1.5" />
<line x1="99.5" y1="310" x2="99.5" y2="325.4" stroke="#000" stroke-width="1.5" />
<line x1="95.5" y1="281.8" x2="103.5" y2="281.8" stroke="#000" stroke-width="1.5" />
<line x1="95.5" y1="325.4" x2="103.5" y2="325.4" stroke="#000" stroke-width="1.5" />
<rect x="93.0" y="290.5" width="13" height="19.5" fill="#808080" stroke="#000" stroke-width="1.5" />
<line x1="93.0" y1="297.3" x2="106.0" y2="297.3" stroke="#000" stroke-width="1.5" />
<path d="M96.4,282.40 L96.4,281.40 A3.1,3.6 0 0 1 102.6,281.40 L102.6,282.40 Z" fill="#000"/>
<path d="M96.4,324.79 L96.4,325.79 A3.1,3.6 0 0 0 102.6,325.79 L102.6,324.79 Z" fill="#000"/>
<line x1="131.25" y1="276.75" x2="131.25" y2="287.5" stroke="#000" stroke-width="1.5" />
<line x1="131.25" y1="298.75" x2="131.25" y2="305.5" stroke="#000" stroke-width="1.5" />
<line x1="127.25" y1="276.75" x2="135.25" y2="276.75" stroke="#000" stroke-width="1.5" />
<line x1="127.25" y1="305.5" x2="135.25" y2="305.5" stroke="#000" stroke-width="1.5" />
<rect x="124.75" y="287.5" width="13" height="11.25" fill="#fff" stroke="#000" stroke-width="1.5" />
<line x1="124.75" y1="293" x2="137.75" y2="293" stroke="#000" stroke-width="1.5" />
<line x1="150.75" y1="293.5" x2="150.75" y2="298.75" stroke="#000" stroke-width="1.5" />
<line x1="150.75" y1="319.25" x2="150.75" y2="336.75" stroke="#000" stroke-width="1.5" />
<line x1="146.75" y1="293.5" x2="154.75" y2="293.5" stroke="#000" stroke-width="1.5" />
<line x1="146.75" y1="336.75" x2="154.75" y2="336.75" stroke="#000" stroke-width="1.5" />
<rect x="144.25" y="298.75" width="13" height="20.5" fill="#808080" stroke="#000" stroke-width="1.5" />
<line x1="144.25" y1="305.5" x2="157.25" y2="305.5" stroke="#000" stroke-width="1.5" />
<path d="M147.65,294.1 L147.65,293.1 A3.1,3.6 0 0 1 153.85,293.1 L153.85,294.1 Z" fill="#000"/>
<circle cx="150.75" cy="345.75" r="2.8" fill="#000" stroke="none" stroke-width="1.2"/>
<line x1="182.5" y1="256.1" x2="182.5" y2="267.6" stroke="#000" stroke-width="1.5" />
<line x1="182.5" y1="278.75" x2="182.5" y2="282.4" stroke="#000" stroke-width="1.5" />
<line x1="178.5" y1="256.1" x2="186.5" y2="256.1" stroke="#000" stroke-width="1.5" />
<line x1="178.5" y1="282.4" x2="186.5" y2="282.4" stroke="#000" stroke-width="1.5" />
<rect x="176.0" y="267.6" width="13" height="11.14" fill="#fff" stroke="#000" stroke-width="1.5" />
<line x1="176.0" y1="274.1" x2="189.0" y2="274.1" stroke="#000" stroke-width="1.5" />
<line x1="201.25" y1="256.3" x2="201.25" y2="266.25" stroke="#000" stroke-width="1.5" />
<line x1="201.25" y1="287" x2="201.25" y2="301.25" stroke="#000" stroke-width="1.5" />
<line x1="197.25" y1="256.3" x2="205.25" y2="256.3" stroke="#000" stroke-width="1.5" />
<line x1="197.25" y1="301.25" x2="205.25" y2="301.25" stroke="#000" stroke-width="1.5" />
<rect x="194.75" y="266.25" width="13" height="20.75" fill="#808080" stroke="#000" stroke-width="1.5" />
<line x1="194.75" y1="274.25" x2="207.75" y2="274.25" stroke="#000" stroke-width="1.5" />
<path d="M198.15,256.90 L198.15,255.9 A3.1,3.6 0 0 1 204.35,255.9 L204.35,256.90 Z" fill="#000"/>
<circle cx="201.25" cy="308.25" r="2.8" fill="#000" stroke="none" stroke-width="1.2"/>
<line x1="80.5" y1="352" x2="80.5" y2="356" stroke="#000" stroke-width="1.3" />
<line x1="99.5" y1="352" x2="99.5" y2="356" stroke="#000" stroke-width="1.3" />
<line x1="131.25" y1="352" x2="131.25" y2="356" stroke="#000" stroke-width="1.3" />
<line x1="150.75" y1="352" x2="150.75" y2="356" stroke="#000" stroke-width="1.3" />
<line x1="182.5" y1="352" x2="182.5" y2="356" stroke="#000" stroke-width="1.3" />
<line x1="201.25" y1="352" x2="201.25" y2="356" stroke="#000" stroke-width="1.3" />
<text x="72.3" y="363.3" font-size="8" font-weight="bold" textLength="16.9" lengthAdjust="spacingAndGlyphs" stroke="#000" stroke-width="0.15">HIV-</text>
<text x="90.7" y="363.3" font-size="8" font-weight="bold" textLength="18.3" lengthAdjust="spacingAndGlyphs" stroke="#000" stroke-width="0.15">HIV+</text>
<text x="122.8" y="363.3" font-size="8" font-weight="bold" textLength="16.9" lengthAdjust="spacingAndGlyphs" stroke="#000" stroke-width="0.15">HIV-</text>
<text x="141.2" y="363.3" font-size="8" font-weight="bold" textLength="18.3" lengthAdjust="spacingAndGlyphs" stroke="#000" stroke-width="0.15">HIV+</text>
<text x="174.05" y="363.3" font-size="8" font-weight="bold" textLength="16.9" lengthAdjust="spacingAndGlyphs" stroke="#000" stroke-width="0.15">HIV-</text>
<text x="192.45" y="363.3" font-size="8" font-weight="bold" textLength="18.3" lengthAdjust="spacingAndGlyphs" stroke="#000" stroke-width="0.15">HIV+</text>
<line x1="69.5" y1="369.25" x2="110" y2="369.25" stroke="#000" stroke-width="1.3" />
<line x1="121.25" y1="369.25" x2="161.25" y2="369.25" stroke="#000" stroke-width="1.3" />
<line x1="172.5" y1="369.25" x2="212.5" y2="369.25" stroke="#000" stroke-width="1.3" />
<text x="90.2" y="384.2" font-size="11.5" font-weight="bold" text-anchor="middle" textLength="15" lengthAdjust="spacingAndGlyphs" stroke="#000" stroke-width="0.2" >DN</text>
<text x="141.3" y="384.2" font-size="11.5" font-weight="bold" text-anchor="middle" textLength="22.5" lengthAdjust="spacingAndGlyphs" stroke="#000" stroke-width="0.2" >CD4</text>
<text x="193.7" y="384.2" font-size="11.5" font-weight="bold" text-anchor="middle" textLength="23" lengthAdjust="spacingAndGlyphs" stroke="#000" stroke-width="0.2" >CD8</text>
<text font-size="11" font-weight="bold" text-anchor="middle" textLength="134" lengthAdjust="spacingAndGlyphs" stroke="#000" stroke-width="0.2" transform="translate(13.9,299) rotate(-90)" >CD161+ V<tspan font-weight="normal" font-family="Liberation Serif" stroke-width="0">α</tspan>7.2+ MAIT cells</text>
<text font-size="11" font-weight="bold" text-anchor="middle" textLength="97.5" lengthAdjust="spacingAndGlyphs" stroke="#000" stroke-width="0.2" transform="translate(27.5,299) rotate(-90)" >(% of rectal T cells)</text>
<text x="228.5" y="221.5" font-size="14" font-weight="bold" stroke="#000" stroke-width="0.2" >D</text>
<line x1="295.8" y1="245.7" x2="295.8" y2="350" stroke="#000" stroke-width="1.6" />
<line x1="292.0" y1="246.2" x2="295.8" y2="246.2" stroke="#000" stroke-width="1.6" />
<line x1="293.6" y1="270.38" x2="295.8" y2="270.38" stroke="#000" stroke-width="1.0" />
<line x1="293.6" y1="264.29" x2="295.8" y2="264.29" stroke="#000" stroke-width="1.0" />
<line x1="293.6" y1="259.96" x2="295.8" y2="259.96" stroke="#000" stroke-width="1.0" />
<line x1="293.6" y1="256.61" x2="295.8" y2="256.61" stroke="#000" stroke-width="1.0" />
<line x1="293.6" y1="253.87" x2="295.8" y2="253.87" stroke="#000" stroke-width="1.0" />
<line x1="293.6" y1="251.55" x2="295.8" y2="251.55" stroke="#000" stroke-width="1.0" />
<line x1="293.6" y1="249.55" x2="295.8" y2="249.55" stroke="#000" stroke-width="1.0" />
<line x1="293.6" y1="247.78" x2="295.8" y2="247.78" stroke="#000" stroke-width="1.0" />
<line x1="292.0" y1="280.8" x2="295.8" y2="280.8" stroke="#000" stroke-width="1.6" />
<line x1="293.6" y1="304.98" x2="295.8" y2="304.98" stroke="#000" stroke-width="1.0" />
<line x1="293.6" y1="298.89" x2="295.8" y2="298.89" stroke="#000" stroke-width="1.0" />
<line x1="293.6" y1="294.56" x2="295.8" y2="294.56" stroke="#000" stroke-width="1.0" />
<line x1="293.6" y1="291.21" x2="295.8" y2="291.21" stroke="#000" stroke-width="1.0" />
<line x1="293.6" y1="288.47" x2="295.8" y2="288.47" stroke="#000" stroke-width="1.0" />
<line x1="293.6" y1="286.15" x2="295.8" y2="286.15" stroke="#000" stroke-width="1.0" />
<line x1="293.6" y1="284.15" x2="295.8" y2="284.15" stroke="#000" stroke-width="1.0" />
<line x1="293.6" y1="282.38" x2="295.8" y2="282.38" stroke="#000" stroke-width="1.0" />
<line x1="292.0" y1="315.4" x2="295.8" y2="315.4" stroke="#000" stroke-width="1.6" />
<line x1="293.6" y1="339.58" x2="295.8" y2="339.58" stroke="#000" stroke-width="1.0" />
<line x1="293.6" y1="333.49" x2="295.8" y2="333.49" stroke="#000" stroke-width="1.0" />
<line x1="293.6" y1="329.16" x2="295.8" y2="329.16" stroke="#000" stroke-width="1.0" />
<line x1="293.6" y1="325.81" x2="295.8" y2="325.81" stroke="#000" stroke-width="1.0" />
<line x1="293.6" y1="323.07" x2="295.8" y2="323.07" stroke="#000" stroke-width="1.0" />
<line x1="293.6" y1="320.75" x2="295.8" y2="320.75" stroke="#000" stroke-width="1.0" />
<line x1="293.6" y1="318.75" x2="295.8" y2="318.75" stroke="#000" stroke-width="1.0" />
<line x1="293.6" y1="316.98" x2="295.8" y2="316.98" stroke="#000" stroke-width="1.0" />
<line x1="292.0" y1="350.0" x2="295.8" y2="350.0" stroke="#000" stroke-width="1.6" />
<line x1="295" y1="350" x2="451.3" y2="350" stroke="#000" stroke-width="1.6" />
<text x="292" y="249.79" font-size="10" font-weight="bold" text-anchor="end" stroke="#000" stroke-width="0.2" >10</text>
<text x="292" y="284.40" font-size="10" font-weight="bold" text-anchor="end" stroke="#000" stroke-width="0.2" >1</text>
<text x="292" y="319.0" font-size="10" font-weight="bold" text-anchor="end" stroke="#000" stroke-width="0.2" >0.1</text>
<text x="292" y="353.6" font-size="10" font-weight="bold" text-anchor="end" stroke="#000" stroke-width="0.2" >0.01</text>
<line x1="295.8" y1="350" x2="295.8" y2="354.2" stroke="#000" stroke-width="1.6" />
<text x="295.8" y="364.7" font-size="10.5" font-weight="bold" text-anchor="middle" stroke="#000" stroke-width="0.2" >0</text>
<line x1="347.6" y1="350" x2="347.6" y2="354.2" stroke="#000" stroke-width="1.6" />
<text x="347.6" y="364.7" font-size="10.5" font-weight="bold" text-anchor="middle" stroke="#000" stroke-width="0.2" >100</text>
<line x1="399.4" y1="350" x2="399.4" y2="354.2" stroke="#000" stroke-width="1.6" />
<text x="399.4" y="364.7" font-size="10.5" font-weight="bold" text-anchor="middle" stroke="#000" stroke-width="0.2" >200</text>
<line x1="451.2" y1="350" x2="451.2" y2="354.2" stroke="#000" stroke-width="1.6" />
<text x="451.2" y="364.7" font-size="10.5" font-weight="bold" text-anchor="middle" stroke="#000" stroke-width="0.2" >300</text>
<line x1="321.7" y1="350" x2="321.7" y2="352.6" stroke="#000" stroke-width="1.0" />
<line x1="373.5" y1="350" x2="373.5" y2="352.6" stroke="#000" stroke-width="1.0" />
<line x1="425.29" y1="350" x2="425.29" y2="352.6" stroke="#000" stroke-width="1.0" />
<text x="373.7" y="377.3" font-size="11" font-weight="bold" text-anchor="middle" textLength="132.5" lengthAdjust="spacingAndGlyphs" stroke="#000" stroke-width="0.2" >Time since HIV diagnosis</text>
<text x="373.7" y="390.5" font-size="11" font-weight="bold" text-anchor="middle" textLength="47.5" lengthAdjust="spacingAndGlyphs" stroke="#000" stroke-width="0.2" >(months)</text>
<text font-size="10.5" font-weight="bold" text-anchor="middle" textLength="138" lengthAdjust="spacingAndGlyphs" stroke="#000" stroke-width="0.2" transform="translate(252.5,296) rotate(-90)" >CD161+ V<tspan font-weight="normal" font-family="Liberation Serif" stroke-width="0">α</tspan>7.2+ MAIT cells</text>
<text font-size="10.5" font-weight="bold" text-anchor="middle" textLength="68" lengthAdjust="spacingAndGlyphs" stroke="#000" stroke-width="0.2" transform="translate(266.6,295) rotate(-90)" >(% of T cells)</text>
<circle cx="287.2" cy="228.6" r="2.3" fill="#fff" stroke="#000" stroke-width="1.1"/>
<text x="299.4" y="232.6" font-size="10.5" textLength="78" lengthAdjust="spacingAndGlyphs" fill="#111" stroke="#111" stroke-width="0.3" >PBMC r = -0.65</text>
<text x="333" y="244.5" font-size="10.5" textLength="44.8" lengthAdjust="spacingAndGlyphs" fill="#111" stroke="#111" stroke-width="0.3" >p = 0.037</text>
<circle cx="384.4" cy="228.6" r="2.4" fill="#000" stroke="none" stroke-width="1.2"/>
<text x="396.6" y="232.6" font-size="10.5" textLength="72.6" lengthAdjust="spacingAndGlyphs" fill="#111" stroke="#111" stroke-width="0.3" >Rectal mucosa</text>
<text x="475" y="232.6" font-size="10.5" textLength="41.5" lengthAdjust="spacingAndGlyphs" fill="#111" stroke="#111" stroke-width="0.3" >r = -0.58</text>
<text x="473.1" y="244.5" font-size="10.5" textLength="44.5" lengthAdjust="spacingAndGlyphs" fill="#111" stroke="#111" stroke-width="0.3" >p = 0.066</text>
<circle cx="297" cy="265.6" r="2.7" fill="#000" stroke="none" stroke-width="1.2"/>
<circle cx="300" cy="267" r="2.7" fill="#000" stroke="none" stroke-width="1.2"/>
<circle cx="300" cy="273.6" r="2.7" fill="#000" stroke="none" stroke-width="1.2"/>
<circle cx="312" cy="250.3" r="2.7" fill="#000" stroke="none" stroke-width="1.2"/>
<circle cx="337.5" cy="267" r="2.7" fill="#000" stroke="none" stroke-width="1.2"/>
<circle cx="343" cy="283.5" r="2.7" fill="#000" stroke="none" stroke-width="1.2"/>
<circle cx="340" cy="288" r="2.7" fill="#000" stroke="none" stroke-width="1.2"/>
<circle cx="391.6" cy="263.5" r="2.7" fill="#000" stroke="none" stroke-width="1.2"/>
<circle cx="426.2" cy="281.4" r="2.7" fill="#000" stroke="none" stroke-width="1.2"/>
<circle cx="439.8" cy="293.8" r="2.7" fill="#000" stroke="none" stroke-width="1.2"/>
<circle cx="392.5" cy="306.5" r="2.7" fill="#000" stroke="none" stroke-width="1.2"/>
<circle cx="312.4" cy="263.5" r="2.8" fill="#fff" stroke="#000" stroke-width="1.15"/>
<circle cx="342.7" cy="276.5" r="2.8" fill="#fff" stroke="#000" stroke-width="1.15"/>
<circle cx="299.4" cy="285.8" r="2.8" fill="#fff" stroke="#000" stroke-width="1.15"/>
<circle cx="300" cy="287.8" r="2.8" fill="#fff" stroke="#000" stroke-width="1.15"/>
<circle cx="297" cy="298.7" r="2.8" fill="#fff" stroke="#000" stroke-width="1.15"/>
<circle cx="337" cy="292" r="2.8" fill="#fff" stroke="#000" stroke-width="1.15"/>
<circle cx="339.8" cy="295.9" r="2.8" fill="#fff" stroke="#000" stroke-width="1.15"/>
<circle cx="391.6" cy="301.6" r="2.8" fill="#fff" stroke="#000" stroke-width="1.15"/>
<circle cx="392.5" cy="328.5" r="2.8" fill="#fff" stroke="#000" stroke-width="1.15"/>
<circle cx="426.2" cy="328.5" r="2.8" fill="#fff" stroke="#000" stroke-width="1.15"/>
<circle cx="439.8" cy="316" r="2.8" fill="#fff" stroke="#000" stroke-width="1.15"/>
<text x="4.5" y="427" font-size="14" font-weight="bold" stroke="#000" stroke-width="0.2" >E</text>
<line x1="65.3" y1="460.4" x2="65.3" y2="556.3" stroke="#000" stroke-width="1.6" />
<line x1="61.5" y1="461.2" x2="65.3" y2="461.2" stroke="#000" stroke-width="1.6" />
<line x1="63.1" y1="473.09" x2="65.3" y2="473.09" stroke="#000" stroke-width="1.0" />
<text x="61.9" y="464.8" font-size="10" font-weight="bold" text-anchor="end" stroke="#000" stroke-width="0.2" >1</text>
<line x1="61.5" y1="484.98" x2="65.3" y2="484.98" stroke="#000" stroke-width="1.6" />
<line x1="63.1" y1="496.87" x2="65.3" y2="496.87" stroke="#000" stroke-width="1.0" />
<text x="61.9" y="488.58" font-size="10" font-weight="bold" text-anchor="end" stroke="#000" stroke-width="0.2" >0.5</text>
<line x1="61.5" y1="508.76" x2="65.3" y2="508.76" stroke="#000" stroke-width="1.6" />
<line x1="63.1" y1="520.65" x2="65.3" y2="520.65" stroke="#000" stroke-width="1.0" />
<text x="61.9" y="512.36" font-size="10" font-weight="bold" text-anchor="end" stroke="#000" stroke-width="0.2" >0</text>
<line x1="61.5" y1="532.54" x2="65.3" y2="532.54" stroke="#000" stroke-width="1.6" />
<line x1="63.1" y1="544.43" x2="65.3" y2="544.43" stroke="#000" stroke-width="1.0" />
<text x="61.9" y="536.14" font-size="10" font-weight="bold" text-anchor="end" stroke="#000" stroke-width="0.2" >-0.5</text>
<line x1="61.5" y1="556.31" x2="65.3" y2="556.31" stroke="#000" stroke-width="1.6" />
<text x="61.9" y="559.92" font-size="10" font-weight="bold" text-anchor="end" stroke="#000" stroke-width="0.2" >-1</text>
<line x1="64.5" y1="556.3" x2="209" y2="556.3" stroke="#000" stroke-width="1.6" />
<line x1="65.3" y1="556.3" x2="65.3" y2="560.4" stroke="#000" stroke-width="1.6" />
<line x1="79.59" y1="556.3" x2="79.59" y2="558.8" stroke="#000" stroke-width="1.0" />
<text x="64.5" y="569.6" font-size="10" font-weight="bold" text-anchor="middle" stroke="#000" stroke-width="0.2" >-1.5</text>
<line x1="93.88" y1="556.3" x2="93.88" y2="560.4" stroke="#000" stroke-width="1.6" />
<line x1="108.16" y1="556.3" x2="108.16" y2="558.8" stroke="#000" stroke-width="1.0" />
<text x="93.08" y="569.6" font-size="10" font-weight="bold" text-anchor="middle" stroke="#000" stroke-width="0.2" >-1</text>
<line x1="122.46" y1="556.3" x2="122.46" y2="560.4" stroke="#000" stroke-width="1.6" />
<line x1="136.75" y1="556.3" x2="136.75" y2="558.8" stroke="#000" stroke-width="1.0" />
<text x="121.66" y="569.6" font-size="10" font-weight="bold" text-anchor="middle" stroke="#000" stroke-width="0.2" >-0.5</text>
<line x1="151.04" y1="556.3" x2="151.04" y2="560.4" stroke="#000" stroke-width="1.6" />
<line x1="165.32" y1="556.3" x2="165.32" y2="558.8" stroke="#000" stroke-width="1.0" />
<text x="151.04" y="569.6" font-size="10" font-weight="bold" text-anchor="middle" stroke="#000" stroke-width="0.2" >0</text>
<line x1="179.62" y1="556.3" x2="179.62" y2="560.4" stroke="#000" stroke-width="1.6" />
<line x1="193.91" y1="556.3" x2="193.91" y2="558.8" stroke="#000" stroke-width="1.0" />
<text x="179.62" y="569.6" font-size="10" font-weight="bold" text-anchor="middle" stroke="#000" stroke-width="0.2" >0.5</text>
<line x1="208.2" y1="556.3" x2="208.2" y2="560.4" stroke="#000" stroke-width="1.6" />
<text x="208.2" y="569.6" font-size="10" font-weight="bold" text-anchor="middle" stroke="#000" stroke-width="0.2" >1</text>
<line x1="71.5" y1="436.2" x2="83.6" y2="436.2" stroke="#909090" stroke-width="1.4" />
<circle cx="77.5" cy="436.2" r="2.1" fill="#e8e8e8" stroke="#909090" stroke-width="1.0"/>
<line x1="71.5" y1="449.8" x2="83.6" y2="449.8" stroke="#000" stroke-width="1.5" />
<circle cx="77.5" cy="449.8" r="2.4" fill="#000" stroke="none" stroke-width="1.2"/>
<text x="88.6" y="440" font-size="10.5" textLength="89.5" lengthAdjust="spacingAndGlyphs" fill="#111" stroke="#111" stroke-width="0.3" >HIV- r<tspan font-size="7.50" dy="-3.80">2</tspan><tspan dy="3.80">=0.25 p=0.17</tspan></text>
<text x="88.6" y="454" font-size="10.5" textLength="103.5" lengthAdjust="spacingAndGlyphs" fill="#111" stroke="#111" stroke-width="0.3" >HIV+ r<tspan font-size="7.50" dy="-3.80">2</tspan><tspan dy="3.80">=0.63 p=0.0037</tspan></text>
<line x1="72.7" y1="536" x2="179.6" y2="471.4" stroke="#000" stroke-width="1.5" />
<line x1="129.5" y1="507.3" x2="198.3" y2="481.6" stroke="#888" stroke-width="1.5" />
<circle cx="162.1" cy="469.3" r="2.5" fill="#fff" stroke="#888" stroke-width="1.2"/>
<circle cx="149.3" cy="484" r="2.5" fill="#fff" stroke="#888" stroke-width="1.2"/>
<circle cx="155.2" cy="489.3" r="2.5" fill="#fff" stroke="#888" stroke-width="1.2"/>
<circle cx="200.1" cy="493" r="2.5" fill="#fff" stroke="#888" stroke-width="1.2"/>
<circle cx="174.5" cy="498" r="2.5" fill="#fff" stroke="#888" stroke-width="1.2"/>
<circle cx="129.5" cy="505.3" r="2.5" fill="#fff" stroke="#888" stroke-width="1.2"/>
<circle cx="139.8" cy="508.6" r="2.5" fill="#fff" stroke="#888" stroke-width="1.2"/>
<circle cx="134.1" cy="517.3" r="2.5" fill="#fff" stroke="#888" stroke-width="1.2"/>
<circle cx="137.7" cy="526.3" r="2.5" fill="#fff" stroke="#888" stroke-width="1.2"/>
<circle cx="115.9" cy="483.4" r="2.6" fill="#000" stroke="none" stroke-width="1.2"/>
<circle cx="121.8" cy="486.5" r="2.6" fill="#000" stroke="none" stroke-width="1.2"/>
<circle cx="131.3" cy="489" r="2.6" fill="#000" stroke="none" stroke-width="1.2"/>
<circle cx="143.1" cy="489.9" r="2.6" fill="#000" stroke="none" stroke-width="1.2"/>
<circle cx="140.6" cy="498" r="2.6" fill="#000" stroke="none" stroke-width="1.2"/>
<circle cx="179.6" cy="466.2" r="2.6" fill="#000" stroke="none" stroke-width="1.2"/>
<circle cx="157.8" cy="511.7" r="2.6" fill="#000" stroke="none" stroke-width="1.2"/>
<circle cx="127.7" cy="518.1" r="2.6" fill="#000" stroke="none" stroke-width="1.2"/>
<circle cx="93.7" cy="526.3" r="2.6" fill="#000" stroke="none" stroke-width="1.2"/>
<circle cx="72.4" cy="543" r="2.6" fill="#000" stroke="none" stroke-width="1.2"/>
<circle cx="77" cy="543.8" r="2.6" fill="#000" stroke="none" stroke-width="1.2"/>
<text x="136" y="586" font-size="10.5" font-weight="bold" text-anchor="middle" textLength="159.5" lengthAdjust="spacingAndGlyphs" stroke="#000" stroke-width="0.2" >Log<tspan font-size="7" dy="2.50">10</tspan><tspan dy="-2.50"> CD161+ V</tspan><tspan font-weight="normal" font-family="Liberation Serif" stroke-width="0">α</tspan>7.2+ MAIT cells</text>
<text x="136" y="599.5" font-size="10.5" font-weight="bold" text-anchor="middle" textLength="82" lengthAdjust="spacingAndGlyphs" stroke="#000" stroke-width="0.2" >(% of  PB T cells)</text>
<text font-size="10.5" font-weight="bold" text-anchor="middle" textLength="157" lengthAdjust="spacingAndGlyphs" stroke="#000" stroke-width="0.2" transform="translate(27.8,506.5) rotate(-90)" >Log<tspan font-size="7" dy="2.50">10</tspan><tspan dy="-2.50"> CD161+ V</tspan><tspan font-weight="normal" font-family="Liberation Serif" stroke-width="0">α</tspan>7.2+ MAIT cells</text>
<text font-size="10.5" font-weight="bold" text-anchor="middle" textLength="90.5" lengthAdjust="spacingAndGlyphs" stroke="#000" stroke-width="0.2" transform="translate(40.6,507) rotate(-90)" >(% of rectal T cells)</text>
<text x="229.2" y="426.9" font-size="14" font-weight="bold" stroke="#000" stroke-width="0.2" >F</text>
<text x="289" y="422.2" font-size="10.5" font-weight="bold" text-anchor="middle" textLength="31" lengthAdjust="spacingAndGlyphs" stroke="#000" stroke-width="0.2" >PBMC</text>
<text x="330.7" y="422.2" font-size="10.5" font-weight="bold" text-anchor="middle" textLength="29.8" lengthAdjust="spacingAndGlyphs" stroke="#000" stroke-width="0.2" >Rectal</text>
<text x="331" y="434.6" font-size="10.5" font-weight="bold" text-anchor="middle" textLength="38.1" lengthAdjust="spacingAndGlyphs" stroke="#000" stroke-width="0.2" >mucosa</text>
<text x="289.5" y="448.1" font-size="10.5" text-anchor="middle" textLength="30.8" lengthAdjust="spacingAndGlyphs" fill="#111" stroke="#111" stroke-width="0.3" >p=0.19</text>
<text x="330.8" y="448.1" font-size="10.5" text-anchor="middle" textLength="42.3" lengthAdjust="spacingAndGlyphs" fill="#111" stroke="#111" stroke-width="0.3" >p=0.0065</text>
<line x1="281.2" y1="457.1" x2="300" y2="457.1" stroke="#000" stroke-width="1.5" />
<line x1="281.2" y1="453.90" x2="281.2" y2="460.3" stroke="#000" stroke-width="1.5" />
<line x1="300" y1="453.90" x2="300" y2="460.3" stroke="#000" stroke-width="1.5" />
<line x1="317.3" y1="457.1" x2="336" y2="457.1" stroke="#000" stroke-width="1.5" />
<line x1="317.3" y1="453.90" x2="317.3" y2="460.3" stroke="#000" stroke-width="1.5" />
<line x1="336" y1="453.90" x2="336" y2="460.3" stroke="#000" stroke-width="1.5" />
<line x1="274.5" y1="460.7" x2="274.5" y2="556.3" stroke="#000" stroke-width="1.6" />
<line x1="270.7" y1="461.2" x2="274.5" y2="461.2" stroke="#000" stroke-width="1.6" />
<line x1="272.3" y1="494.43" x2="274.5" y2="494.43" stroke="#000" stroke-width="1.0" />
<line x1="272.3" y1="486.06" x2="274.5" y2="486.06" stroke="#000" stroke-width="1.0" />
<line x1="272.3" y1="480.12" x2="274.5" y2="480.12" stroke="#000" stroke-width="1.0" />
<line x1="272.3" y1="475.51" x2="274.5" y2="475.51" stroke="#000" stroke-width="1.0" />
<line x1="272.3" y1="471.74" x2="274.5" y2="471.74" stroke="#000" stroke-width="1.0" />
<line x1="272.3" y1="468.56" x2="274.5" y2="468.56" stroke="#000" stroke-width="1.0" />
<line x1="272.3" y1="465.80" x2="274.5" y2="465.80" stroke="#000" stroke-width="1.0" />
<line x1="272.3" y1="463.37" x2="274.5" y2="463.37" stroke="#000" stroke-width="1.0" />
<line x1="270.7" y1="508.75" x2="274.5" y2="508.75" stroke="#000" stroke-width="1.6" />
<line x1="272.3" y1="541.98" x2="274.5" y2="541.98" stroke="#000" stroke-width="1.0" />
<line x1="272.3" y1="533.61" x2="274.5" y2="533.61" stroke="#000" stroke-width="1.0" />
<line x1="272.3" y1="527.67" x2="274.5" y2="527.67" stroke="#000" stroke-width="1.0" />
<line x1="272.3" y1="523.06" x2="274.5" y2="523.06" stroke="#000" stroke-width="1.0" />
<line x1="272.3" y1="519.29" x2="274.5" y2="519.29" stroke="#000" stroke-width="1.0" />
<line x1="272.3" y1="516.11" x2="274.5" y2="516.11" stroke="#000" stroke-width="1.0" />
<line x1="272.3" y1="513.35" x2="274.5" y2="513.35" stroke="#000" stroke-width="1.0" />
<line x1="272.3" y1="510.92" x2="274.5" y2="510.92" stroke="#000" stroke-width="1.0" />
<line x1="270.7" y1="556.3" x2="274.5" y2="556.3" stroke="#000" stroke-width="1.6" />
<line x1="273.7" y1="556.3" x2="346" y2="556.3" stroke="#000" stroke-width="1.6" />
<text x="271.5" y="464.8" font-size="10" font-weight="bold" text-anchor="end" stroke="#000" stroke-width="0.2" >10</text>
<text x="271.5" y="512.35" font-size="10" font-weight="bold" text-anchor="end" stroke="#000" stroke-width="0.2" >1</text>
<text x="271.5" y="559.9" font-size="10" font-weight="bold" text-anchor="end" stroke="#000" stroke-width="0.2" >0.1</text>
<line x1="283.5" y1="556.3" x2="283.5" y2="560.3" stroke="#000" stroke-width="1.5" />
<line x1="301.2" y1="556.3" x2="301.2" y2="560.3" stroke="#000" stroke-width="1.5" />
<line x1="318.9" y1="556.3" x2="318.9" y2="560.3" stroke="#000" stroke-width="1.5" />
<line x1="336.7" y1="556.3" x2="336.7" y2="560.3" stroke="#000" stroke-width="1.5" />
<line x1="283.5" y1="487.4" x2="283.5" y2="500.1" stroke="#000" stroke-width="1.5" />
<line x1="283.5" y1="512.7" x2="283.5" y2="514.8" stroke="#000" stroke-width="1.5" />
<line x1="280.2" y1="514.8" x2="286.8" y2="514.8" stroke="#000" stroke-width="1.5" />
<rect x="277.85" y="500.1" width="11.3" height="12.60" fill="#fff" stroke="#000" stroke-width="1.5" />
<line x1="277.85" y1="506.9" x2="289.15" y2="506.9" stroke="#000" stroke-width="1.5" />
<path d="M280.1,487.4 L283.5,484.5 L286.9,487.4 L283.5,490.29 Z" fill="#000"/>
<line x1="301.2" y1="478.3" x2="301.2" y2="494.2" stroke="#000" stroke-width="1.5" />
<line x1="301.2" y1="510.5" x2="301.2" y2="510.9" stroke="#000" stroke-width="1.5" />
<line x1="297.9" y1="510.9" x2="304.5" y2="510.9" stroke="#000" stroke-width="1.5" />
<rect x="295.55" y="494.2" width="11.3" height="16.30" fill="#808080" stroke="#000" stroke-width="1.5" />
<line x1="295.55" y1="500.8" x2="306.84" y2="500.8" stroke="#000" stroke-width="1.5" />
<path d="M297.8,478.3 L301.2,475.40 L304.59,478.3 L301.2,481.2 Z" fill="#000"/>
<path d="M298.09,510.29 L298.09,511.29 A3.1,3.6 0 0 0 304.3,511.29 L304.3,510.29 Z" fill="#000"/>
<line x1="318.9" y1="499.7" x2="318.9" y2="503.3" stroke="#000" stroke-width="1.5" />
<line x1="318.9" y1="518.4" x2="318.9" y2="539.4" stroke="#000" stroke-width="1.5" />
<line x1="315.59" y1="499.7" x2="322.2" y2="499.7" stroke="#000" stroke-width="1.5" />
<line x1="315.59" y1="539.4" x2="322.2" y2="539.4" stroke="#000" stroke-width="1.5" />
<rect x="313.25" y="503.3" width="11.3" height="15.09" fill="#fff" stroke="#000" stroke-width="1.5" />
<line x1="313.25" y1="513.1" x2="324.54" y2="513.1" stroke="#000" stroke-width="1.5" />
<line x1="336.7" y1="468.2" x2="336.7" y2="477" stroke="#000" stroke-width="1.5" />
<line x1="336.7" y1="500.8" x2="336.7" y2="510.8" stroke="#000" stroke-width="1.5" />
<line x1="333.4" y1="468.2" x2="340.0" y2="468.2" stroke="#000" stroke-width="1.5" />
<line x1="333.4" y1="510.8" x2="340.0" y2="510.8" stroke="#000" stroke-width="1.5" />
<rect x="331.15" y="477" width="11.1" height="23.80" fill="#808080" stroke="#000" stroke-width="1.5" />
<line x1="331.15" y1="487.1" x2="342.25" y2="487.1" stroke="#000" stroke-width="1.5" />
<path d="M333.59,468.8 L333.59,467.8 A3.1,3.6 0 0 1 339.8,467.8 L339.8,468.8 Z" fill="#000"/>
<circle cx="336.7" cy="513.8" r="2.8" fill="#000" stroke="none" stroke-width="1.2"/>
<text x="272.5" y="573.7" font-size="10" font-weight="bold" text-anchor="end" textLength="19" lengthAdjust="spacingAndGlyphs" stroke="#000" stroke-width="0.2" >HIV:</text>
<text x="285.0" y="573.7" font-size="10" font-weight="bold" text-anchor="middle" stroke="#000" stroke-width="0.2" >-</text>
<text x="302.7" y="573.7" font-size="10" font-weight="bold" text-anchor="middle" stroke="#000" stroke-width="0.2" >+</text>
<text x="320.4" y="573.7" font-size="10" font-weight="bold" text-anchor="middle" stroke="#000" stroke-width="0.2" >-</text>
<text x="338.2" y="573.7" font-size="10" font-weight="bold" text-anchor="middle" stroke="#000" stroke-width="0.2" >+</text>
<text font-size="10.5" font-weight="bold" text-anchor="middle" textLength="96" lengthAdjust="spacingAndGlyphs" stroke="#000" stroke-width="0.2" transform="translate(241.9,507.2) rotate(-90)" >CD161- V<tspan font-weight="normal" font-family="Liberation Serif" stroke-width="0">α</tspan>7.2+ cells</text>
<text font-size="10.5" font-weight="bold" text-anchor="middle" textLength="61" lengthAdjust="spacingAndGlyphs" stroke="#000" stroke-width="0.2" transform="translate(253.2,506.6) rotate(-90)" >(% of T cells)</text>
<text x="382.8" y="426.9" font-size="14" font-weight="bold" stroke="#000" stroke-width="0.2" >G</text>
<text x="449.5" y="447.6" font-size="7" font-weight="bold" text-anchor="middle" textLength="19.6" lengthAdjust="spacingAndGlyphs" >PBMC</text>
<text x="485.8" y="447.6" font-size="7" font-weight="bold" text-anchor="middle" textLength="20.3" lengthAdjust="spacingAndGlyphs" >Rectal</text>
<text x="486.2" y="455.4" font-size="7" font-weight="bold" text-anchor="middle" textLength="26.4" lengthAdjust="spacingAndGlyphs" >mucosa</text>
<text x="448" y="464.9" font-size="7" text-anchor="middle" textLength="24" lengthAdjust="spacingAndGlyphs" fill="#111" >p=0.047</text>
<text x="485" y="464.9" font-size="7" text-anchor="middle" textLength="19.5" lengthAdjust="spacingAndGlyphs" fill="#111" >p=0.11</text>
<line x1="439.7" y1="471" x2="457.9" y2="471" stroke="#000" stroke-width="1.4" />
<line x1="439.7" y1="468" x2="439.7" y2="474" stroke="#000" stroke-width="1.4" />
<line x1="457.9" y1="468" x2="457.9" y2="474" stroke="#000" stroke-width="1.4" />
<line x1="475.7" y1="471" x2="494.2" y2="471" stroke="#000" stroke-width="1.4" />
<line x1="475.7" y1="468" x2="475.7" y2="474" stroke="#000" stroke-width="1.4" />
<line x1="494.2" y1="468" x2="494.2" y2="474" stroke="#000" stroke-width="1.4" />
<line x1="433.2" y1="460.59" x2="433.2" y2="554.6" stroke="#000" stroke-width="1.6" />
<line x1="429.4" y1="461.2" x2="433.2" y2="461.2" stroke="#000" stroke-width="1.6" />
<line x1="431.0" y1="472.87" x2="433.2" y2="472.87" stroke="#000" stroke-width="1.0" />
<line x1="429.4" y1="484.55" x2="433.2" y2="484.55" stroke="#000" stroke-width="1.6" />
<line x1="431.0" y1="496.22" x2="433.2" y2="496.22" stroke="#000" stroke-width="1.0" />
<line x1="429.4" y1="507.9" x2="433.2" y2="507.9" stroke="#000" stroke-width="1.6" />
<line x1="431.0" y1="519.57" x2="433.2" y2="519.57" stroke="#000" stroke-width="1.0" />
<line x1="429.4" y1="531.25" x2="433.2" y2="531.25" stroke="#000" stroke-width="1.6" />
<line x1="431.0" y1="542.92" x2="433.2" y2="542.92" stroke="#000" stroke-width="1.0" />
<line x1="429.4" y1="554.6" x2="433.2" y2="554.6" stroke="#000" stroke-width="1.6" />
<line x1="432.4" y1="554.6" x2="503.5" y2="554.6" stroke="#000" stroke-width="1.6" />
<text x="429" y="465.0" font-size="10.5" font-weight="bold" text-anchor="end" stroke="#000" stroke-width="0.2" >80</text>
<text x="429" y="488.35" font-size="10.5" font-weight="bold" text-anchor="end" stroke="#000" stroke-width="0.2" >60</text>
<text x="429" y="511.7" font-size="10.5" font-weight="bold" text-anchor="end" stroke="#000" stroke-width="0.2" >40</text>
<text x="429" y="535.05" font-size="10.5" font-weight="bold" text-anchor="end" stroke="#000" stroke-width="0.2" >20</text>
<text x="429" y="558.4" font-size="10.5" font-weight="bold" text-anchor="end" stroke="#000" stroke-width="0.2" >0</text>
<line x1="441.3" y1="554.6" x2="441.3" y2="558.8" stroke="#000" stroke-width="1.5" />
<line x1="458.7" y1="554.6" x2="458.7" y2="558.8" stroke="#000" stroke-width="1.5" />
<line x1="476.5" y1="554.6" x2="476.5" y2="558.8" stroke="#000" stroke-width="1.5" />
<line x1="494.3" y1="554.6" x2="494.3" y2="558.8" stroke="#000" stroke-width="1.5" />
<line x1="441.3" y1="543.5" x2="441.3" y2="545.8" stroke="#000" stroke-width="1.5" />
<line x1="441.3" y1="551.9" x2="441.3" y2="552.6" stroke="#000" stroke-width="1.5" />
<line x1="438.0" y1="543.5" x2="444.6" y2="543.5" stroke="#000" stroke-width="1.5" />
<line x1="438.0" y1="552.6" x2="444.6" y2="552.6" stroke="#000" stroke-width="1.5" />
<rect x="435.55" y="545.8" width="11.5" height="6.10" fill="#fff" stroke="#000" stroke-width="1.5" />
<line x1="435.55" y1="548.8" x2="447.05" y2="548.8" stroke="#000" stroke-width="1.5" />
<line x1="458.7" y1="481.5" x2="458.7" y2="493.8" stroke="#000" stroke-width="1.5" />
<line x1="458.7" y1="550.4" x2="458.7" y2="553.6" stroke="#000" stroke-width="1.5" />
<rect x="452.95" y="493.8" width="11.5" height="56.59" fill="#808080" stroke="#000" stroke-width="1.5" />
<line x1="452.95" y1="533.9" x2="464.45" y2="533.9" stroke="#000" stroke-width="1.5" />
<path d="M455.3,481.5 L458.7,478.6 L462.09,481.5 L458.7,484.4 Z" fill="#000"/>
<path d="M455.3,553.6 L458.7,550.7 L462.09,553.6 L458.7,556.5 Z" fill="#000"/>
<line x1="476.5" y1="524.5" x2="476.5" y2="535.8" stroke="#000" stroke-width="1.5" />
<line x1="476.5" y1="548.5" x2="476.5" y2="553" stroke="#000" stroke-width="1.5" />
<line x1="473.2" y1="524.5" x2="479.8" y2="524.5" stroke="#000" stroke-width="1.5" />
<line x1="473.2" y1="553" x2="479.8" y2="553" stroke="#000" stroke-width="1.5" />
<rect x="470.9" y="535.8" width="11.2" height="12.70" fill="#fff" stroke="#000" stroke-width="1.5" />
<line x1="470.9" y1="544.2" x2="482.1" y2="544.2" stroke="#000" stroke-width="1.5" />
<line x1="494.3" y1="487.3" x2="494.3" y2="499.6" stroke="#000" stroke-width="1.5" />
<line x1="494.3" y1="551" x2="494.3" y2="553.6" stroke="#000" stroke-width="1.5" />
<rect x="488.7" y="499.6" width="11.2" height="51.39" fill="#808080" stroke="#000" stroke-width="1.5" />
<line x1="488.7" y1="536.5" x2="499.90" y2="536.5" stroke="#000" stroke-width="1.5" />
<path d="M490.90,487.3 L494.3,484.40 L497.7,487.3 L494.3,490.2 Z" fill="#000"/>
<path d="M490.90,553.6 L494.3,550.7 L497.7,553.6 L494.3,556.5 Z" fill="#000"/>
<text x="435.8" y="571.8" font-size="10" font-weight="bold" text-anchor="end" textLength="20" lengthAdjust="spacingAndGlyphs" stroke="#000" stroke-width="0.2" >HIV:</text>
<text x="448.5" y="571.6" font-size="10" font-weight="bold" text-anchor="middle" stroke="#000" stroke-width="0.2" >-</text>
<text x="465.2" y="571.6" font-size="10" font-weight="bold" text-anchor="middle" stroke="#000" stroke-width="0.2" >+</text>
<text x="482.5" y="571.6" font-size="10" font-weight="bold" text-anchor="middle" stroke="#000" stroke-width="0.2" >-</text>
<text x="500.7" y="571.6" font-size="10" font-weight="bold" text-anchor="middle" stroke="#000" stroke-width="0.2" >+</text>
<text font-size="10" font-weight="bold" text-anchor="middle" textLength="41.5" lengthAdjust="spacingAndGlyphs" stroke="#000" stroke-width="0.2" transform="translate(399.3,507.5) rotate(-90)" >CD161-</text>
<text font-size="10" font-weight="bold" text-anchor="middle" textLength="125.5" lengthAdjust="spacingAndGlyphs" stroke="#000" stroke-width="0.2" transform="translate(410.6,506.6) rotate(-90)" >(% of IL-18R+ V<tspan font-weight="normal" font-family="Liberation Serif" stroke-width="0">α</tspan>7.2+ MAIT)</text>
<text x="5" y="632.5" font-size="14" font-weight="bold" stroke="#000" stroke-width="0.2" >H</text>
<line x1="63.6" y1="646.0" x2="63.6" y2="734.1" stroke="#000" stroke-width="1.6" />
<line x1="59.80" y1="646.6" x2="63.6" y2="646.6" stroke="#000" stroke-width="1.6" />
<line x1="61.4" y1="657.53" x2="63.6" y2="657.53" stroke="#000" stroke-width="1.0" />
<line x1="59.80" y1="668.47" x2="63.6" y2="668.47" stroke="#000" stroke-width="1.6" />
<line x1="61.4" y1="679.41" x2="63.6" y2="679.41" stroke="#000" stroke-width="1.0" />
<line x1="59.80" y1="690.35" x2="63.6" y2="690.35" stroke="#000" stroke-width="1.6" />
<line x1="61.4" y1="701.28" x2="63.6" y2="701.28" stroke="#000" stroke-width="1.0" />
<line x1="59.80" y1="712.22" x2="63.6" y2="712.22" stroke="#000" stroke-width="1.6" />
<line x1="61.4" y1="723.16" x2="63.6" y2="723.16" stroke="#000" stroke-width="1.0" />
<line x1="59.80" y1="734.1" x2="63.6" y2="734.1" stroke="#000" stroke-width="1.6" />
<line x1="62.8" y1="734.1" x2="195" y2="734.1" stroke="#000" stroke-width="1.6" />
<text x="60.4" y="650.2" font-size="10" font-weight="bold" text-anchor="end" stroke="#000" stroke-width="0.2" >80</text>
<text x="60.4" y="672.08" font-size="10" font-weight="bold" text-anchor="end" stroke="#000" stroke-width="0.2" >60</text>
<text x="60.4" y="693.96" font-size="10" font-weight="bold" text-anchor="end" stroke="#000" stroke-width="0.2" >40</text>
<text x="60.4" y="715.84" font-size="10" font-weight="bold" text-anchor="end" stroke="#000" stroke-width="0.2" >20</text>
<text x="60.4" y="737.72" font-size="10" font-weight="bold" text-anchor="end" stroke="#000" stroke-width="0.2" >0</text>
<line x1="63.6" y1="734.1" x2="63.6" y2="738.3" stroke="#000" stroke-width="1.6" />
<text x="63.6" y="746.6" font-size="10" font-weight="bold" text-anchor="middle" stroke="#000" stroke-width="0.2" >0</text>
<line x1="107.30" y1="734.1" x2="107.30" y2="738.3" stroke="#000" stroke-width="1.6" />
<text x="107.30" y="746.6" font-size="10" font-weight="bold" text-anchor="middle" stroke="#000" stroke-width="0.2" >100</text>
<line x1="151.0" y1="734.1" x2="151.0" y2="738.3" stroke="#000" stroke-width="1.6" />
<text x="151.0" y="746.6" font-size="10" font-weight="bold" text-anchor="middle" stroke="#000" stroke-width="0.2" >200</text>
<line x1="194.70" y1="734.1" x2="194.70" y2="738.3" stroke="#000" stroke-width="1.6" />
<text x="194.70" y="746.6" font-size="10" font-weight="bold" text-anchor="middle" stroke="#000" stroke-width="0.2" >300</text>
<line x1="85.45" y1="734.1" x2="85.45" y2="736.7" stroke="#000" stroke-width="1.0" />
<line x1="129.15" y1="734.1" x2="129.15" y2="736.7" stroke="#000" stroke-width="1.0" />
<line x1="172.85" y1="734.1" x2="172.85" y2="736.7" stroke="#000" stroke-width="1.0" />
<circle cx="63.75" cy="628.75" r="1.9" fill="#fff" stroke="#000" stroke-width="1.0"/>
<circle cx="63.75" cy="641.25" r="2.1" fill="#000" stroke="none" stroke-width="1.2"/>
<text x="73.75" y="632.5" font-size="10" textLength="98.75" lengthAdjust="spacingAndGlyphs" fill="#111" stroke="#111" stroke-width="0.3" >PBMC r=0.81 p=0.0039</text>
<text x="73.75" y="645.2" font-size="10" textLength="127.5" lengthAdjust="spacingAndGlyphs" fill="#111" stroke="#111" stroke-width="0.3" >Rectal mucosa r=0.74 p=0.013</text>
<circle cx="67" cy="714.25" r="2.6" fill="#fff" stroke="#000" stroke-width="1.05"/>
<circle cx="64.5" cy="726.75" r="2.6" fill="#fff" stroke="#000" stroke-width="1.05"/>
<circle cx="66.25" cy="732.5" r="2.6" fill="#fff" stroke="#000" stroke-width="1.05"/>
<circle cx="77.5" cy="732.5" r="2.6" fill="#fff" stroke="#000" stroke-width="1.05"/>
<circle cx="98.75" cy="729.5" r="2.6" fill="#fff" stroke="#000" stroke-width="1.05"/>
<circle cx="103.75" cy="723.25" r="2.6" fill="#fff" stroke="#000" stroke-width="1.05"/>
<circle cx="100.75" cy="703.75" r="2.6" fill="#fff" stroke="#000" stroke-width="1.05"/>
<circle cx="145.5" cy="665.5" r="2.6" fill="#fff" stroke="#000" stroke-width="1.05"/>
<circle cx="144.5" cy="713" r="2.6" fill="#fff" stroke="#000" stroke-width="1.05"/>
<circle cx="173.75" cy="677.5" r="2.6" fill="#fff" stroke="#000" stroke-width="1.05"/>
<circle cx="185" cy="666.25" r="2.6" fill="#fff" stroke="#000" stroke-width="1.05"/>
<circle cx="67" cy="718" r="2.4" fill="#000" stroke="none" stroke-width="1.2"/>
<circle cx="65.5" cy="729.5" r="2.4" fill="#000" stroke="none" stroke-width="1.2"/>
<circle cx="77.5" cy="730.5" r="2.4" fill="#000" stroke="none" stroke-width="1.2"/>
<circle cx="99.25" cy="717" r="2.4" fill="#000" stroke="none" stroke-width="1.2"/>
<circle cx="100.75" cy="686.25" r="2.4" fill="#000" stroke="none" stroke-width="1.2"/>
<circle cx="103" cy="732.5" r="2.4" fill="#000" stroke="none" stroke-width="1.2"/>
<circle cx="64.5" cy="732.5" r="2.4" fill="#000" stroke="none" stroke-width="1.2"/>
<circle cx="145.5" cy="670.75" r="2.4" fill="#000" stroke="none" stroke-width="1.2"/>
<circle cx="144.5" cy="698" r="2.4" fill="#000" stroke="none" stroke-width="1.2"/>
<circle cx="173.75" cy="683" r="2.4" fill="#000" stroke="none" stroke-width="1.2"/>
<circle cx="185" cy="670.75" r="2.4" fill="#000" stroke="none" stroke-width="1.2"/>
<text x="129" y="764.8" font-size="10" font-weight="bold" text-anchor="middle" textLength="113" lengthAdjust="spacingAndGlyphs" stroke="#000" stroke-width="0.2" >Time since HIV diagnosis</text>
<text x="129" y="777" font-size="10" font-weight="bold" text-anchor="middle" textLength="39.5" lengthAdjust="spacingAndGlyphs" stroke="#000" stroke-width="0.2" >(months)</text>
<text font-size="10" font-weight="bold" text-anchor="middle" textLength="32" lengthAdjust="spacingAndGlyphs" stroke="#000" stroke-width="0.2" transform="translate(33.5,689) rotate(-90)" >CD161-</text>
<text font-size="10" font-weight="bold" text-anchor="middle" textLength="115" lengthAdjust="spacingAndGlyphs" stroke="#000" stroke-width="0.2" transform="translate(44.5,688.7) rotate(-90)" >(% of IL-18R+ V<tspan font-weight="normal" font-family="Liberation Serif" stroke-width="0">α</tspan>7.2+ MAIT)</text>
<text x="228.3" y="632.5" font-size="14" font-weight="bold" stroke="#000" stroke-width="0.2" >I</text>
<text x="305.8" y="635.8" font-size="10.5" text-anchor="middle" textLength="41.3" lengthAdjust="spacingAndGlyphs" fill="#111" stroke="#111" stroke-width="0.3" >p=0.0049</text>
<line x1="289.8" y1="642.3" x2="320.4" y2="642.3" stroke="#000" stroke-width="1.5" />
<line x1="289.8" y1="639.09" x2="289.8" y2="645.5" stroke="#000" stroke-width="1.5" />
<line x1="320.4" y1="639.09" x2="320.4" y2="645.5" stroke="#000" stroke-width="1.5" />
<line x1="274" y1="640.3" x2="274" y2="733.9" stroke="#000" stroke-width="1.6" />
<line x1="270.2" y1="640.9" x2="274" y2="640.9" stroke="#000" stroke-width="1.6" />
<line x1="271.8" y1="656.4" x2="274" y2="656.4" stroke="#000" stroke-width="1.0" />
<line x1="270.2" y1="671.9" x2="274" y2="671.9" stroke="#000" stroke-width="1.6" />
<line x1="271.8" y1="687.4" x2="274" y2="687.4" stroke="#000" stroke-width="1.0" />
<line x1="270.2" y1="702.9" x2="274" y2="702.9" stroke="#000" stroke-width="1.6" />
<line x1="271.8" y1="718.4" x2="274" y2="718.4" stroke="#000" stroke-width="1.0" />
<line x1="270.2" y1="733.9" x2="274" y2="733.9" stroke="#000" stroke-width="1.6" />
<line x1="273.2" y1="733.9" x2="336.5" y2="733.9" stroke="#000" stroke-width="1.6" />
<text x="271" y="644.69" font-size="10.5" font-weight="bold" text-anchor="end" stroke="#000" stroke-width="0.2" >60</text>
<text x="271" y="675.69" font-size="10.5" font-weight="bold" text-anchor="end" stroke="#000" stroke-width="0.2" >40</text>
<text x="271" y="706.69" font-size="10.5" font-weight="bold" text-anchor="end" stroke="#000" stroke-width="0.2" >20</text>
<text x="271" y="737.69" font-size="10.5" font-weight="bold" text-anchor="end" stroke="#000" stroke-width="0.2" >0</text>
<line x1="290.4" y1="733.9" x2="290.4" y2="738.2" stroke="#000" stroke-width="1.5" />
<line x1="320.8" y1="733.9" x2="320.8" y2="738.2" stroke="#000" stroke-width="1.5" />
<line x1="290" y1="659.1" x2="290" y2="668.5" stroke="#000" stroke-width="1.5" />
<line x1="290" y1="682.5" x2="290" y2="686.3" stroke="#000" stroke-width="1.5" />
<line x1="284.5" y1="659.1" x2="295.5" y2="659.1" stroke="#000" stroke-width="1.5" />
<line x1="284.5" y1="686.3" x2="295.5" y2="686.3" stroke="#000" stroke-width="1.5" />
<rect x="280.05" y="668.5" width="19.9" height="14.0" fill="#fff" stroke="#000" stroke-width="1.5" />
<line x1="280.05" y1="674.6" x2="299.95" y2="674.6" stroke="#000" stroke-width="1.5" />
<line x1="320.9" y1="656.6" x2="320.9" y2="712.6" stroke="#000" stroke-width="1.5" />
<line x1="320.9" y1="726.1" x2="320.9" y2="728.1" stroke="#000" stroke-width="1.5" />
<line x1="315.4" y1="656.6" x2="326.4" y2="656.6" stroke="#000" stroke-width="1.5" />
<line x1="315.4" y1="728.1" x2="326.4" y2="728.1" stroke="#000" stroke-width="1.5" />
<rect x="311.0" y="712.6" width="19.8" height="13.5" fill="#808080" stroke="#000" stroke-width="1.5" />
<line x1="311.0" y1="718" x2="330.79" y2="718" stroke="#000" stroke-width="1.5" />
<circle cx="320.9" cy="651" r="2.8" fill="#000" stroke="none" stroke-width="1.2"/>
<circle cx="320.9" cy="728.9" r="2.8" fill="#000" stroke="none" stroke-width="1.2"/>
<text x="291" y="747.8" font-size="10.5" font-weight="bold" text-anchor="middle" textLength="20.1" lengthAdjust="spacingAndGlyphs" stroke="#000" stroke-width="0.2" >HIV-</text>
<text x="320.8" y="748" font-size="10.5" font-weight="bold" text-anchor="middle" textLength="21.7" lengthAdjust="spacingAndGlyphs" stroke="#000" stroke-width="0.2" >HIV+</text>
<text font-size="10.5" font-weight="bold" text-anchor="middle" textLength="61" lengthAdjust="spacingAndGlyphs" stroke="#000" stroke-width="0.2" transform="translate(243.2,686) rotate(-90)" >CD4+ T cells</text>
<text font-size="10.5" font-weight="bold" text-anchor="middle" textLength="89" lengthAdjust="spacingAndGlyphs" stroke="#000" stroke-width="0.2" transform="translate(254.2,686) rotate(-90)" >(% of rectal T cells)</text>
</svg></body></html>
